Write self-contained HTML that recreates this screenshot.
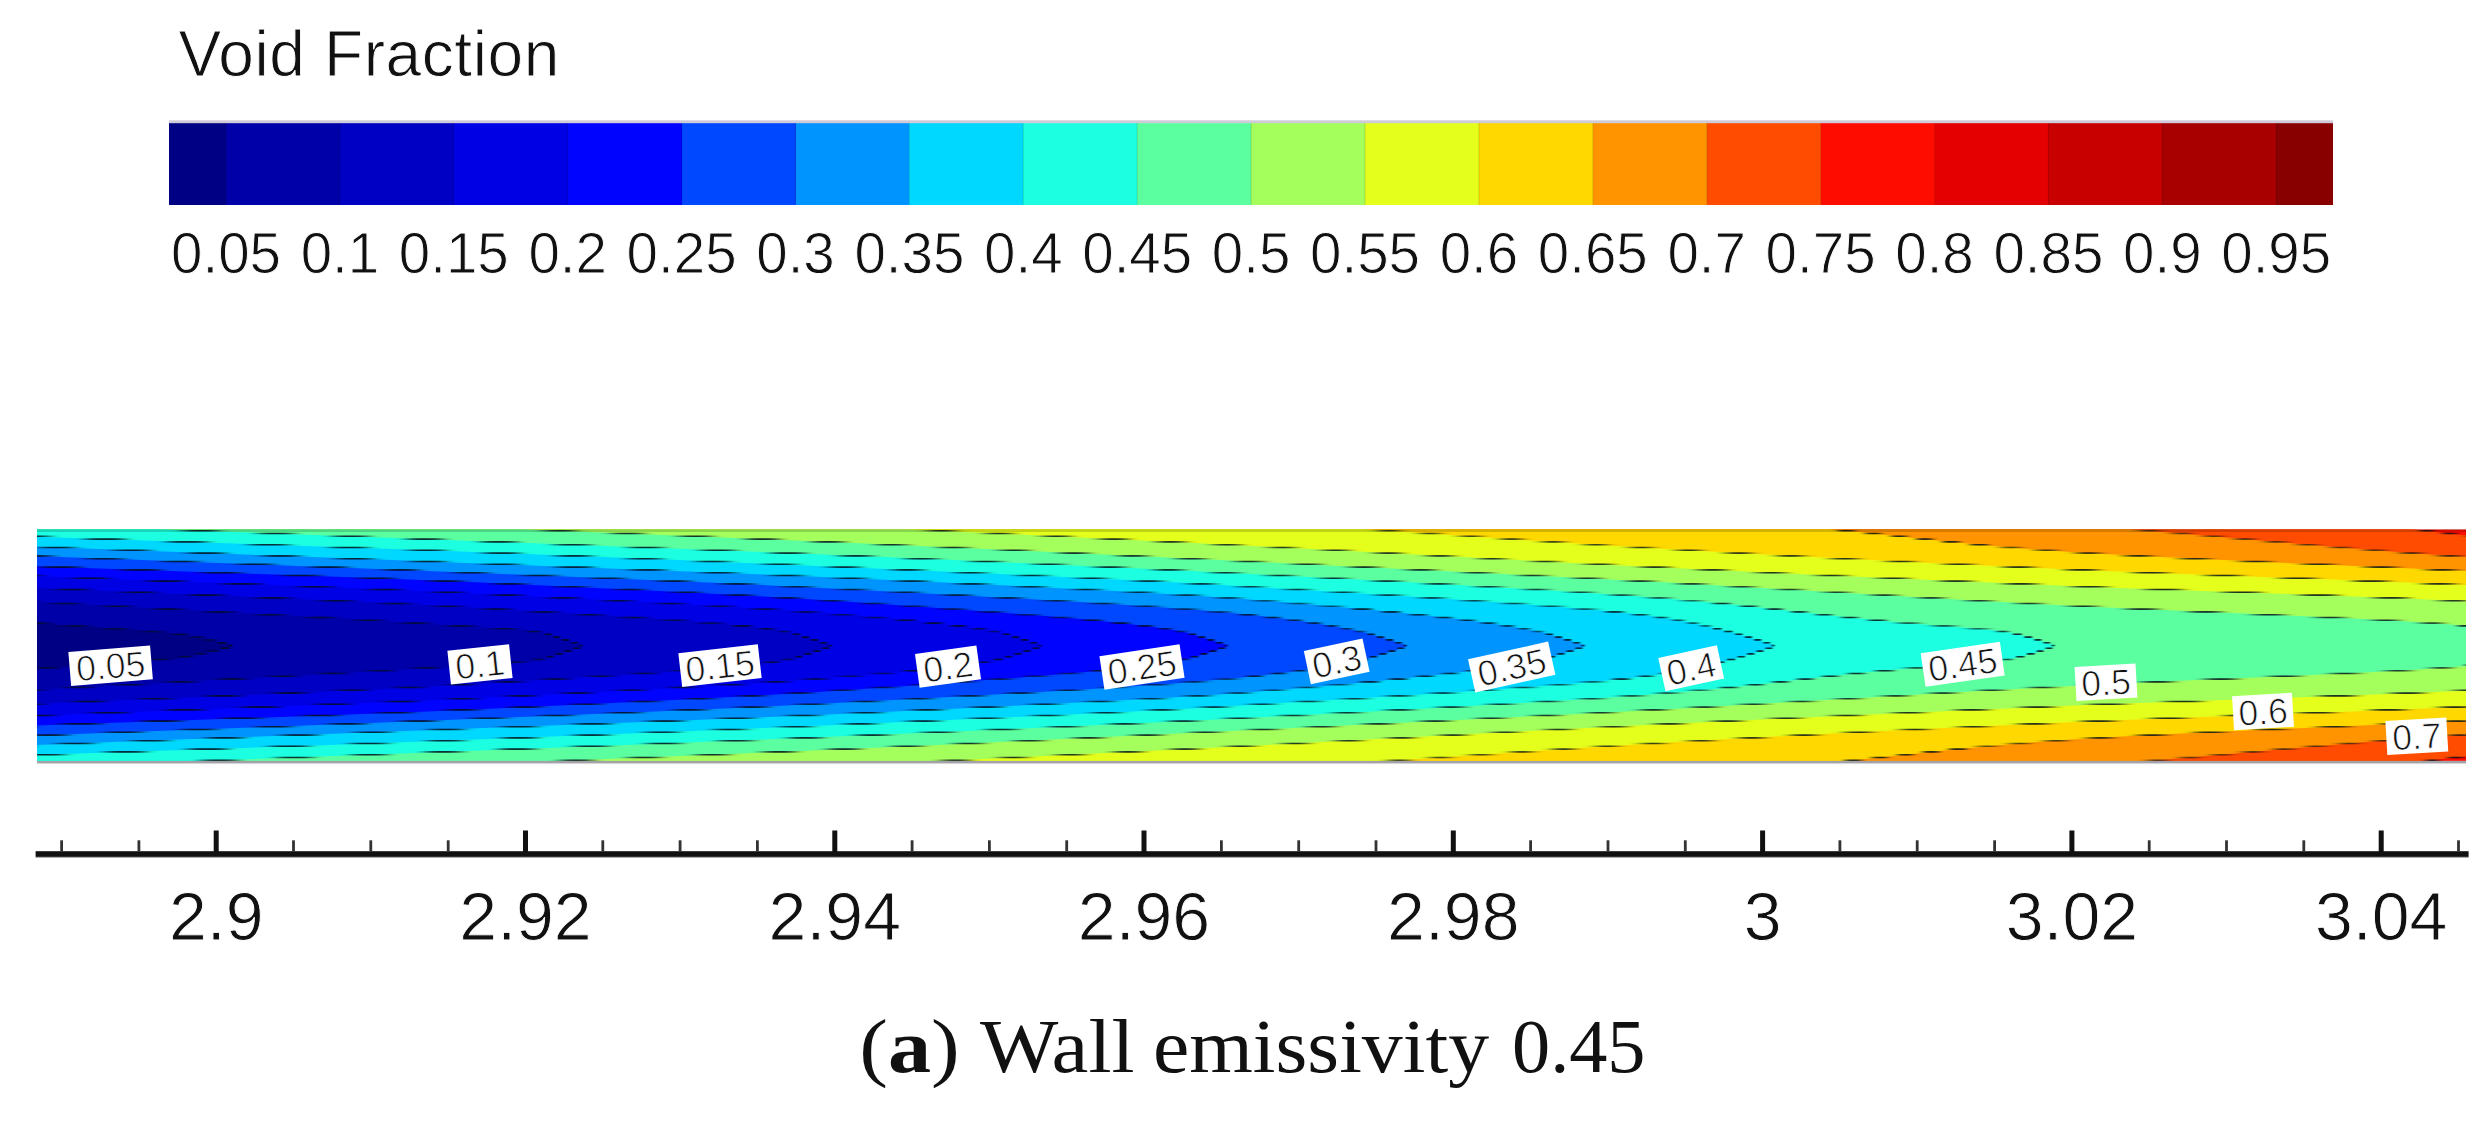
<!DOCTYPE html>
<html><head><meta charset="utf-8"><title>Void Fraction</title>
<style>html,body{margin:0;padding:0;background:#fff;overflow:hidden}svg{display:block}</style></head>
<body>
<svg width="2491" height="1122" viewBox="0 0 2491 1122">
<defs>
<clipPath id="cp"><rect x="37.0" y="529.3" width="2429.0" height="231.60000000000002"/></clipPath>
<filter id="bl" x="-5%" y="-5%" width="110%" height="110%"><feGaussianBlur stdDeviation="6.5 0.45"/></filter>
<filter id="bl2" x="-5%" y="-5%" width="110%" height="110%"><feGaussianBlur stdDeviation="3 0.5"/></filter>
<filter id="bl3" x="-5%" y="-5%" width="110%" height="110%"><feGaussianBlur stdDeviation="1.2 0.5"/></filter>
</defs>
<rect width="100%" height="100%" fill="#fff"/>
<g shape-rendering="crispEdges">
<rect x="169.0" y="123.1" width="57.6" height="81.7" fill="#000084"/>
<rect x="226.0" y="123.1" width="114.5" height="81.7" fill="#0000a8"/>
<rect x="339.9" y="123.1" width="114.5" height="81.7" fill="#0000c4"/>
<rect x="453.8" y="123.1" width="114.5" height="81.7" fill="#0000e4"/>
<rect x="567.7" y="123.1" width="114.5" height="81.7" fill="#0004ff"/>
<rect x="681.6" y="123.1" width="114.5" height="81.7" fill="#0048ff"/>
<rect x="795.5" y="123.1" width="114.5" height="81.7" fill="#0094ff"/>
<rect x="909.4" y="123.1" width="114.5" height="81.7" fill="#00d8ff"/>
<rect x="1023.3" y="123.1" width="114.5" height="81.7" fill="#1cffe0"/>
<rect x="1137.2" y="123.1" width="114.5" height="81.7" fill="#5cffa0"/>
<rect x="1251.1" y="123.1" width="114.5" height="81.7" fill="#a4ff5c"/>
<rect x="1365.0" y="123.1" width="114.5" height="81.7" fill="#e4ff1c"/>
<rect x="1478.9" y="123.1" width="114.5" height="81.7" fill="#ffd800"/>
<rect x="1592.8" y="123.1" width="114.5" height="81.7" fill="#ff9400"/>
<rect x="1706.7" y="123.1" width="114.5" height="81.7" fill="#ff4c00"/>
<rect x="1820.6" y="123.1" width="114.5" height="81.7" fill="#ff0c00"/>
<rect x="1934.5" y="123.1" width="114.5" height="81.7" fill="#e40000"/>
<rect x="2048.4" y="123.1" width="114.5" height="81.7" fill="#c80000"/>
<rect x="2162.3" y="123.1" width="114.5" height="81.7" fill="#a80000"/>
<rect x="2276.2" y="123.1" width="56.8" height="81.7" fill="#880000"/>
</g>
<rect x="169.0" y="120.3" width="2164.0" height="2.9" fill="#cfcbd8"/>
<rect x="225.4" y="123.1" width="1.2" height="81.70000000000002" fill="#000" opacity="0.12"/>
<rect x="339.3" y="123.1" width="1.2" height="81.70000000000002" fill="#000" opacity="0.12"/>
<rect x="453.2" y="123.1" width="1.2" height="81.70000000000002" fill="#000" opacity="0.12"/>
<rect x="567.1" y="123.1" width="1.2" height="81.70000000000002" fill="#000" opacity="0.12"/>
<rect x="681.0" y="123.1" width="1.2" height="81.70000000000002" fill="#000" opacity="0.12"/>
<rect x="794.9" y="123.1" width="1.2" height="81.70000000000002" fill="#000" opacity="0.12"/>
<rect x="908.8" y="123.1" width="1.2" height="81.70000000000002" fill="#000" opacity="0.12"/>
<rect x="1022.7" y="123.1" width="1.2" height="81.70000000000002" fill="#000" opacity="0.12"/>
<rect x="1136.6" y="123.1" width="1.2" height="81.70000000000002" fill="#000" opacity="0.12"/>
<rect x="1250.5" y="123.1" width="1.2" height="81.70000000000002" fill="#000" opacity="0.12"/>
<rect x="1364.4" y="123.1" width="1.2" height="81.70000000000002" fill="#000" opacity="0.12"/>
<rect x="1478.3" y="123.1" width="1.2" height="81.70000000000002" fill="#000" opacity="0.12"/>
<rect x="1592.2" y="123.1" width="1.2" height="81.70000000000002" fill="#000" opacity="0.12"/>
<rect x="1706.1" y="123.1" width="1.2" height="81.70000000000002" fill="#000" opacity="0.12"/>
<rect x="1820.0" y="123.1" width="1.2" height="81.70000000000002" fill="#000" opacity="0.12"/>
<rect x="1933.9" y="123.1" width="1.2" height="81.70000000000002" fill="#000" opacity="0.12"/>
<rect x="2047.8" y="123.1" width="1.2" height="81.70000000000002" fill="#000" opacity="0.12"/>
<rect x="2161.7" y="123.1" width="1.2" height="81.70000000000002" fill="#000" opacity="0.12"/>
<rect x="2275.6" y="123.1" width="1.2" height="81.70000000000002" fill="#000" opacity="0.12"/>
<g font-family="Liberation Sans, Arial, Helvetica, sans-serif" fill="#111" stroke="#fff" stroke-width="0.9">
<text x="178.6" y="76.3" font-size="64" letter-spacing="0.6">Void Fraction</text>
<g font-size="56.5" text-anchor="middle">
<text x="226.0" y="273.3">0.05</text>
<text x="339.9" y="273.3">0.1</text>
<text x="453.8" y="273.3">0.15</text>
<text x="567.7" y="273.3">0.2</text>
<text x="681.6" y="273.3">0.25</text>
<text x="795.5" y="273.3">0.3</text>
<text x="909.4" y="273.3">0.35</text>
<text x="1023.3" y="273.3">0.4</text>
<text x="1137.2" y="273.3">0.45</text>
<text x="1251.1" y="273.3">0.5</text>
<text x="1365.0" y="273.3">0.55</text>
<text x="1478.9" y="273.3">0.6</text>
<text x="1592.8" y="273.3">0.65</text>
<text x="1706.7" y="273.3">0.7</text>
<text x="1820.6" y="273.3">0.75</text>
<text x="1934.5" y="273.3">0.8</text>
<text x="2048.4" y="273.3">0.85</text>
<text x="2162.3" y="273.3">0.9</text>
<text x="2276.2" y="273.3">0.95</text>
</g></g>
<g clip-path="url(#cp)">
<rect x="37.0" y="529.3" width="2429.0" height="231.60000000000002" fill="#ff0c00"/>
<path d="M-200,525.9 L2386.5,525.9 L2403.4,527.9 L2420.3,529.9 L2436.1,531.9 L2452.3,533.9 L2472.3,535.9 L2496.1,538.0 L2522.8,540.0 L2552.4,542.0 L2584.6,544.0 L2600.0,546.0 L2600.0,548.0 L2600.0,550.1 L2600.0,552.1 L2600.0,554.1 L2600.0,556.1 L2600.0,558.1 L2600.0,560.1 L2600.0,562.2 L2600.0,564.2 L2600.0,566.2 L2600.0,568.2 L2600.0,570.2 L2600.0,572.2 L2600.0,574.3 L2600.0,576.3 L2600.0,578.3 L2600.0,580.3 L2600.0,582.3 L2600.0,584.3 L2600.0,586.4 L2600.0,588.4 L2600.0,590.4 L2600.0,592.4 L2600.0,594.4 L2600.0,596.4 L2600.0,598.5 L2600.0,600.5 L2600.0,602.5 L2600.0,604.5 L2600.0,606.5 L2600.0,608.5 L2600.0,610.6 L2600.0,612.6 L2600.0,614.6 L2600.0,616.6 L2600.0,618.6 L2600.0,620.6 L2600.0,622.7 L2600.0,624.7 L2600.0,625.9 L2600.0,626.7 L2600.0,626.9 L2600.0,627.9 L2600.0,628.7 L2600.0,628.9 L2600.0,629.9 L2600.0,630.7 L2600.0,630.9 L2600.0,631.9 L2600.0,632.7 L2600.0,632.9 L2600.0,633.9 L2600.0,634.8 L2600.0,634.9 L2600.0,635.9 L2600.0,636.8 L2600.0,636.9 L2600.0,637.9 L2600.0,638.8 L2600.0,638.9 L2600.0,639.9 L2600.0,640.8 L2600.0,640.9 L2600.0,641.9 L2600.0,642.8 L2600.0,642.9 L2600.0,643.9 L2600.0,644.8 L2600.0,644.9 L2600.0,645.9 L2600.0,646.9 L2600.0,646.9 L2600.0,647.9 L2600.0,648.9 L2600.0,648.9 L2600.0,649.9 L2600.0,650.9 L2600.0,650.9 L2600.0,651.9 L2600.0,652.9 L2600.0,652.9 L2600.0,653.9 L2600.0,654.9 L2600.0,654.9 L2600.0,655.9 L2600.0,656.9 L2600.0,656.9 L2600.0,657.9 L2600.0,658.9 L2600.0,659.0 L2600.0,659.9 L2600.0,660.9 L2600.0,661.0 L2600.0,661.9 L2600.0,662.9 L2600.0,663.0 L2600.0,663.9 L2600.0,664.9 L2600.0,665.0 L2600.0,665.9 L2600.0,667.0 L2600.0,669.0 L2600.0,671.1 L2600.0,673.1 L2600.0,675.1 L2600.0,677.1 L2600.0,679.1 L2600.0,681.1 L2600.0,683.2 L2600.0,685.2 L2600.0,687.2 L2600.0,689.2 L2600.0,691.2 L2600.0,693.2 L2600.0,695.3 L2600.0,697.3 L2600.0,699.3 L2600.0,701.3 L2600.0,703.3 L2600.0,705.3 L2600.0,707.4 L2600.0,709.4 L2600.0,711.4 L2600.0,713.4 L2600.0,715.4 L2600.0,717.4 L2600.0,719.5 L2600.0,721.5 L2600.0,723.5 L2600.0,725.5 L2600.0,727.5 L2600.0,729.5 L2600.0,731.6 L2600.0,733.6 L2600.0,735.6 L2600.0,737.6 L2600.0,739.6 L2600.0,741.6 L2600.0,743.7 L2600.0,745.7 L2584.6,747.7 L2552.4,749.7 L2522.8,751.7 L2496.1,753.7 L2472.3,755.8 L2452.3,757.8 L2436.1,759.8 L2420.3,761.8 L2403.4,763.8 L2386.5,765.9 L-200,765.9 Z" fill="#ff4c00"/>
<path d="M-200,525.9 L2090.9,525.9 L2115.2,527.9 L2139.4,529.9 L2163.3,531.9 L2186.5,533.9 L2209.3,535.9 L2231.8,538.0 L2254.2,540.0 L2276.7,542.0 L2299.5,544.0 L2322.8,546.0 L2346.7,548.0 L2371.4,550.1 L2397.1,552.1 L2424.0,554.1 L2452.2,556.1 L2482.2,558.1 L2515.2,560.1 L2551.2,562.2 L2590.1,564.2 L2600.0,566.2 L2600.0,568.2 L2600.0,570.2 L2600.0,572.2 L2600.0,574.3 L2600.0,576.3 L2600.0,578.3 L2600.0,580.3 L2600.0,582.3 L2600.0,584.3 L2600.0,586.4 L2600.0,588.4 L2600.0,590.4 L2600.0,592.4 L2600.0,594.4 L2600.0,596.4 L2600.0,598.5 L2600.0,600.5 L2600.0,602.5 L2600.0,604.5 L2600.0,606.5 L2600.0,608.5 L2600.0,610.6 L2600.0,612.6 L2600.0,614.6 L2600.0,616.6 L2600.0,618.6 L2600.0,620.6 L2600.0,622.7 L2600.0,624.7 L2600.0,625.9 L2600.0,626.7 L2600.0,626.9 L2600.0,627.9 L2600.0,628.7 L2600.0,628.9 L2600.0,629.9 L2600.0,630.7 L2600.0,630.9 L2600.0,631.9 L2600.0,632.7 L2600.0,632.9 L2600.0,633.9 L2600.0,634.8 L2600.0,634.9 L2600.0,635.9 L2600.0,636.8 L2600.0,636.9 L2600.0,637.9 L2600.0,638.8 L2600.0,638.9 L2600.0,639.9 L2600.0,640.8 L2600.0,640.9 L2600.0,641.9 L2600.0,642.8 L2600.0,642.9 L2600.0,643.9 L2600.0,644.8 L2600.0,644.9 L2600.0,645.9 L2600.0,646.9 L2600.0,646.9 L2600.0,647.9 L2600.0,648.9 L2600.0,648.9 L2600.0,649.9 L2600.0,650.9 L2600.0,650.9 L2600.0,651.9 L2600.0,652.9 L2600.0,652.9 L2600.0,653.9 L2600.0,654.9 L2600.0,654.9 L2600.0,655.9 L2600.0,656.9 L2600.0,656.9 L2600.0,657.9 L2600.0,658.9 L2600.0,659.0 L2600.0,659.9 L2600.0,660.9 L2600.0,661.0 L2600.0,661.9 L2600.0,662.9 L2600.0,663.0 L2600.0,663.9 L2600.0,664.9 L2600.0,665.0 L2600.0,665.9 L2600.0,667.0 L2600.0,669.0 L2600.0,671.1 L2600.0,673.1 L2600.0,675.1 L2600.0,677.1 L2600.0,679.1 L2600.0,681.1 L2600.0,683.2 L2600.0,685.2 L2600.0,687.2 L2600.0,689.2 L2600.0,691.2 L2600.0,693.2 L2600.0,695.3 L2600.0,697.3 L2600.0,699.3 L2600.0,701.3 L2600.0,703.3 L2600.0,705.3 L2600.0,707.4 L2600.0,709.4 L2600.0,711.4 L2600.0,713.4 L2600.0,715.4 L2600.0,717.4 L2600.0,719.5 L2600.0,721.5 L2600.0,723.5 L2600.0,725.5 L2590.1,727.5 L2551.2,729.5 L2515.2,731.6 L2482.2,733.6 L2452.2,735.6 L2424.0,737.6 L2397.1,739.6 L2371.4,741.6 L2346.7,743.7 L2322.8,745.7 L2299.5,747.7 L2276.7,749.7 L2254.2,751.7 L2231.8,753.7 L2209.3,755.8 L2186.5,757.8 L2163.3,759.8 L2139.4,761.8 L2115.2,763.8 L2090.9,765.9 L-200,765.9 Z" fill="#ff9400"/>
<path d="M-200,525.9 L1797.2,525.9 L1817.8,527.9 L1838.3,529.9 L1858.3,531.9 L1877.3,533.9 L1895.7,535.9 L1914.0,538.0 L1932.5,540.0 L1951.6,542.0 L1971.7,544.0 L1993.2,546.0 L2016.5,548.0 L2042.0,550.1 L2070.6,552.1 L2103.9,554.1 L2141.3,556.1 L2181.9,558.1 L2224.9,560.1 L2269.6,562.2 L2315.1,564.2 L2360.7,566.2 L2405.5,568.2 L2448.8,570.2 L2490.6,572.2 L2534.2,574.3 L2579.7,576.3 L2600.0,578.3 L2600.0,580.3 L2600.0,582.3 L2600.0,584.3 L2600.0,586.4 L2600.0,588.4 L2600.0,590.4 L2600.0,592.4 L2600.0,594.4 L2600.0,596.4 L2600.0,598.5 L2600.0,600.5 L2600.0,602.5 L2600.0,604.5 L2600.0,606.5 L2600.0,608.5 L2600.0,610.6 L2600.0,612.6 L2600.0,614.6 L2600.0,616.6 L2600.0,618.6 L2600.0,620.6 L2600.0,622.7 L2600.0,624.7 L2600.0,625.9 L2600.0,626.7 L2600.0,626.9 L2600.0,627.9 L2600.0,628.7 L2600.0,628.9 L2600.0,629.9 L2600.0,630.7 L2600.0,630.9 L2600.0,631.9 L2600.0,632.7 L2600.0,632.9 L2600.0,633.9 L2600.0,634.8 L2600.0,634.9 L2600.0,635.9 L2600.0,636.8 L2600.0,636.9 L2600.0,637.9 L2600.0,638.8 L2600.0,638.9 L2600.0,639.9 L2600.0,640.8 L2600.0,640.9 L2600.0,641.9 L2600.0,642.8 L2600.0,642.9 L2600.0,643.9 L2600.0,644.8 L2600.0,644.9 L2600.0,645.9 L2600.0,646.9 L2600.0,646.9 L2600.0,647.9 L2600.0,648.9 L2600.0,648.9 L2600.0,649.9 L2600.0,650.9 L2600.0,650.9 L2600.0,651.9 L2600.0,652.9 L2600.0,652.9 L2600.0,653.9 L2600.0,654.9 L2600.0,654.9 L2600.0,655.9 L2600.0,656.9 L2600.0,656.9 L2600.0,657.9 L2600.0,658.9 L2600.0,659.0 L2600.0,659.9 L2600.0,660.9 L2600.0,661.0 L2600.0,661.9 L2600.0,662.9 L2600.0,663.0 L2600.0,663.9 L2600.0,664.9 L2600.0,665.0 L2600.0,665.9 L2600.0,667.0 L2600.0,669.0 L2600.0,671.1 L2600.0,673.1 L2600.0,675.1 L2600.0,677.1 L2600.0,679.1 L2600.0,681.1 L2600.0,683.2 L2600.0,685.2 L2600.0,687.2 L2600.0,689.2 L2600.0,691.2 L2600.0,693.2 L2600.0,695.3 L2600.0,697.3 L2600.0,699.3 L2600.0,701.3 L2600.0,703.3 L2600.0,705.3 L2600.0,707.4 L2600.0,709.4 L2600.0,711.4 L2600.0,713.4 L2579.7,715.4 L2534.2,717.4 L2490.6,719.5 L2448.8,721.5 L2405.5,723.5 L2360.7,725.5 L2315.1,727.5 L2269.6,729.5 L2224.9,731.6 L2181.9,733.6 L2141.3,735.6 L2103.9,737.6 L2070.6,739.6 L2042.0,741.6 L2016.5,743.7 L1993.2,745.7 L1971.7,747.7 L1951.6,749.7 L1932.5,751.7 L1914.0,753.7 L1895.7,755.8 L1877.3,757.8 L1858.3,759.8 L1838.3,761.8 L1817.8,763.8 L1797.2,765.9 L-200,765.9 Z" fill="#ffd800"/>
<path d="M-200,525.9 L1315.6,525.9 L1346.0,527.9 L1376.5,529.9 L1406.6,531.9 L1436.1,533.9 L1465.3,535.9 L1494.5,538.0 L1524.0,540.0 L1553.9,542.0 L1584.7,544.0 L1616.5,546.0 L1649.6,548.0 L1684.1,550.1 L1719.8,552.1 L1756.4,554.1 L1794.2,556.1 L1832.9,558.1 L1872.7,560.1 L1913.6,562.2 L1955.5,564.2 L1998.4,566.2 L2042.3,568.2 L2088.4,570.2 L2138.1,572.2 L2190.3,574.3 L2244.0,576.3 L2297.9,578.3 L2350.9,580.3 L2402.0,582.3 L2450.0,584.3 L2495.1,586.4 L2541.3,588.4 L2588.7,590.4 L2600.0,592.4 L2600.0,594.4 L2600.0,596.4 L2600.0,598.5 L2600.0,600.5 L2600.0,602.5 L2600.0,604.5 L2600.0,606.5 L2600.0,608.5 L2600.0,610.6 L2600.0,612.6 L2600.0,614.6 L2600.0,616.6 L2600.0,618.6 L2600.0,620.6 L2600.0,622.7 L2600.0,624.7 L2600.0,625.9 L2600.0,626.7 L2600.0,626.9 L2600.0,627.9 L2600.0,628.7 L2600.0,628.9 L2600.0,629.9 L2600.0,630.7 L2600.0,630.9 L2600.0,631.9 L2600.0,632.7 L2600.0,632.9 L2600.0,633.9 L2600.0,634.8 L2600.0,634.9 L2600.0,635.9 L2600.0,636.8 L2600.0,636.9 L2600.0,637.9 L2600.0,638.8 L2600.0,638.9 L2600.0,639.9 L2600.0,640.8 L2600.0,640.9 L2600.0,641.9 L2600.0,642.8 L2600.0,642.9 L2600.0,643.9 L2600.0,644.8 L2600.0,644.9 L2600.0,645.9 L2600.0,646.9 L2600.0,646.9 L2600.0,647.9 L2600.0,648.9 L2600.0,648.9 L2600.0,649.9 L2600.0,650.9 L2600.0,650.9 L2600.0,651.9 L2600.0,652.9 L2600.0,652.9 L2600.0,653.9 L2600.0,654.9 L2600.0,654.9 L2600.0,655.9 L2600.0,656.9 L2600.0,656.9 L2600.0,657.9 L2600.0,658.9 L2600.0,659.0 L2600.0,659.9 L2600.0,660.9 L2600.0,661.0 L2600.0,661.9 L2600.0,662.9 L2600.0,663.0 L2600.0,663.9 L2600.0,664.9 L2600.0,665.0 L2600.0,665.9 L2600.0,667.0 L2600.0,669.0 L2600.0,671.1 L2600.0,673.1 L2600.0,675.1 L2600.0,677.1 L2600.0,679.1 L2600.0,681.1 L2600.0,683.2 L2600.0,685.2 L2600.0,687.2 L2600.0,689.2 L2600.0,691.2 L2600.0,693.2 L2600.0,695.3 L2600.0,697.3 L2600.0,699.3 L2588.7,701.3 L2541.3,703.3 L2495.1,705.3 L2450.0,707.4 L2402.0,709.4 L2350.9,711.4 L2297.9,713.4 L2244.0,715.4 L2190.3,717.4 L2138.1,719.5 L2088.4,721.5 L2042.3,723.5 L1998.4,725.5 L1955.5,727.5 L1913.6,729.5 L1872.7,731.6 L1832.9,733.6 L1794.2,735.6 L1756.4,737.6 L1719.8,739.6 L1684.1,741.6 L1649.6,743.7 L1616.5,745.7 L1584.7,747.7 L1553.9,749.7 L1524.0,751.7 L1494.5,753.7 L1465.3,755.8 L1436.1,757.8 L1406.6,759.8 L1376.5,761.8 L1346.0,763.8 L1315.6,765.9 L-200,765.9 Z" fill="#e4ff1c"/>
<path d="M-200,525.9 L842.5,525.9 L883.6,527.9 L924.7,529.9 L965.9,531.9 L1007.4,533.9 L1048.9,535.9 L1090.4,538.0 L1131.7,540.0 L1172.7,542.0 L1213.3,544.0 L1253.3,546.0 L1292.6,548.0 L1331.0,550.1 L1368.9,552.1 L1406.5,554.1 L1443.9,556.1 L1481.4,558.1 L1519.1,560.1 L1557.4,562.2 L1596.5,564.2 L1636.4,566.2 L1677.5,568.2 L1719.2,570.2 L1761.5,572.2 L1804.4,574.3 L1848.1,576.3 L1892.5,578.3 L1937.7,580.3 L1983.8,582.3 L2030.8,584.3 L2079.5,586.4 L2132.3,588.4 L2188.0,590.4 L2244.8,592.4 L2301.1,594.4 L2355.2,596.4 L2405.6,598.5 L2450.5,600.5 L2489.9,602.5 L2529.4,604.5 L2569.2,606.5 L2600.0,608.5 L2600.0,610.6 L2600.0,612.6 L2600.0,614.6 L2600.0,616.6 L2600.0,618.6 L2600.0,620.6 L2600.0,622.7 L2600.0,624.7 L2600.0,625.9 L2600.0,626.7 L2600.0,626.9 L2600.0,627.9 L2600.0,628.7 L2600.0,628.9 L2600.0,629.9 L2600.0,630.7 L2600.0,630.9 L2600.0,631.9 L2600.0,632.7 L2600.0,632.9 L2600.0,633.9 L2600.0,634.8 L2600.0,634.9 L2600.0,635.9 L2600.0,636.8 L2600.0,636.9 L2600.0,637.9 L2600.0,638.8 L2600.0,638.9 L2600.0,639.9 L2600.0,640.8 L2600.0,640.9 L2600.0,641.9 L2600.0,642.8 L2600.0,642.9 L2600.0,643.9 L2600.0,644.8 L2600.0,644.9 L2600.0,645.9 L2600.0,646.9 L2600.0,646.9 L2600.0,647.9 L2600.0,648.9 L2600.0,648.9 L2600.0,649.9 L2600.0,650.9 L2600.0,650.9 L2600.0,651.9 L2600.0,652.9 L2600.0,652.9 L2600.0,653.9 L2600.0,654.9 L2600.0,654.9 L2600.0,655.9 L2600.0,656.9 L2600.0,656.9 L2600.0,657.9 L2600.0,658.9 L2600.0,659.0 L2600.0,659.9 L2600.0,660.9 L2600.0,661.0 L2600.0,661.9 L2600.0,662.9 L2600.0,663.0 L2600.0,663.9 L2600.0,664.9 L2600.0,665.0 L2600.0,665.9 L2600.0,667.0 L2600.0,669.0 L2600.0,671.1 L2600.0,673.1 L2600.0,675.1 L2600.0,677.1 L2600.0,679.1 L2600.0,681.1 L2600.0,683.2 L2569.2,685.2 L2529.4,687.2 L2489.9,689.2 L2450.5,691.2 L2405.6,693.2 L2355.2,695.3 L2301.1,697.3 L2244.8,699.3 L2188.0,701.3 L2132.3,703.3 L2079.5,705.3 L2030.8,707.4 L1983.8,709.4 L1937.7,711.4 L1892.5,713.4 L1848.1,715.4 L1804.4,717.4 L1761.5,719.5 L1719.2,721.5 L1677.5,723.5 L1636.4,725.5 L1596.5,727.5 L1557.4,729.5 L1519.1,731.6 L1481.4,733.6 L1443.9,735.6 L1406.5,737.6 L1368.9,739.6 L1331.0,741.6 L1292.6,743.7 L1253.3,745.7 L1213.3,747.7 L1172.7,749.7 L1131.7,751.7 L1090.4,753.7 L1048.9,755.8 L1007.4,757.8 L965.9,759.8 L924.7,761.8 L883.6,763.8 L842.5,765.9 L-200,765.9 Z" fill="#a4ff5c"/>
<path d="M-200,525.9 L443.3,525.9 L491.6,527.9 L539.8,529.9 L588.4,531.9 L637.4,533.9 L686.5,535.9 L735.2,538.0 L783.2,540.0 L830.2,542.0 L876.0,544.0 L920.9,546.0 L965.1,548.0 L1008.8,550.1 L1051.9,552.1 L1094.6,554.1 L1137.0,556.1 L1179.0,558.1 L1220.8,560.1 L1262.4,562.2 L1304.0,564.2 L1345.4,566.2 L1386.6,568.2 L1427.5,570.2 L1468.1,572.2 L1508.3,574.3 L1547.9,576.3 L1587.0,578.3 L1625.4,580.3 L1663.2,582.3 L1699.9,584.3 L1735.5,586.4 L1770.4,588.4 L1804.7,590.4 L1838.6,592.4 L1872.4,594.4 L1906.2,596.4 L1940.5,598.5 L1975.2,600.5 L2010.8,602.5 L2047.3,604.5 L2086.4,606.5 L2129.2,608.5 L2174.2,610.6 L2220.5,612.6 L2266.7,614.6 L2311.7,616.6 L2354.1,618.6 L2392.8,620.6 L2426.6,622.7 L2454.2,624.7 L2467.0,625.9 L2475.3,626.7 L2476.9,626.9 L2486.8,627.9 L2495.2,628.7 L2496.6,628.9 L2506.2,629.9 L2514.5,630.7 L2515.7,630.9 L2524.9,631.9 L2532.9,632.7 L2533.8,632.9 L2542.4,633.9 L2549.8,634.8 L2550.6,634.9 L2558.3,635.9 L2565.0,636.8 L2565.5,636.9 L2572.2,637.9 L2578.0,638.8 L2578.3,638.9 L2583.8,639.9 L2588.3,640.8 L2588.5,640.9 L2592.5,641.9 L2595.6,642.8 L2595.7,642.9 L2598.1,643.9 L2599.5,644.8 L2599.5,644.9 L2600.0,645.9 L2599.5,646.9 L2599.5,646.9 L2598.1,647.9 L2595.7,648.9 L2595.6,648.9 L2592.5,649.9 L2588.5,650.9 L2588.3,650.9 L2583.8,651.9 L2578.3,652.9 L2578.0,652.9 L2572.2,653.9 L2565.5,654.9 L2565.0,654.9 L2558.3,655.9 L2550.6,656.9 L2549.8,656.9 L2542.4,657.9 L2533.8,658.9 L2532.9,659.0 L2524.9,659.9 L2515.7,660.9 L2514.5,661.0 L2506.2,661.9 L2496.6,662.9 L2495.2,663.0 L2486.8,663.9 L2476.9,664.9 L2475.3,665.0 L2467.0,665.9 L2454.2,667.0 L2426.6,669.0 L2392.8,671.1 L2354.1,673.1 L2311.7,675.1 L2266.7,677.1 L2220.5,679.1 L2174.2,681.1 L2129.2,683.2 L2086.4,685.2 L2047.3,687.2 L2010.8,689.2 L1975.2,691.2 L1940.5,693.2 L1906.2,695.3 L1872.4,697.3 L1838.6,699.3 L1804.7,701.3 L1770.4,703.3 L1735.5,705.3 L1699.9,707.4 L1663.2,709.4 L1625.4,711.4 L1587.0,713.4 L1547.9,715.4 L1508.3,717.4 L1468.1,719.5 L1427.5,721.5 L1386.6,723.5 L1345.4,725.5 L1304.0,727.5 L1262.4,729.5 L1220.8,731.6 L1179.0,733.6 L1137.0,735.6 L1094.6,737.6 L1051.9,739.6 L1008.8,741.6 L965.1,743.7 L920.9,745.7 L876.0,747.7 L830.2,749.7 L783.2,751.7 L735.2,753.7 L686.5,755.8 L637.4,757.8 L588.4,759.8 L539.8,761.8 L491.6,763.8 L443.3,765.9 L-200,765.9 Z" fill="#5cffa0"/>
<path d="M-200,525.9 L71.3,525.9 L125.1,527.9 L178.9,529.9 L232.8,531.9 L286.9,533.9 L341.0,535.9 L394.7,538.0 L447.8,540.0 L500.8,542.0 L554.0,544.0 L607.1,546.0 L659.7,548.0 L711.7,550.1 L762.7,552.1 L812.5,554.1 L860.7,556.1 L908.0,558.1 L954.8,560.1 L1000.8,562.2 L1046.0,564.2 L1090.3,566.2 L1133.6,568.2 L1175.6,570.2 L1216.4,572.2 L1255.9,574.3 L1294.7,576.3 L1333.5,578.3 L1371.9,580.3 L1409.7,582.3 L1446.7,584.3 L1482.7,586.4 L1517.6,588.4 L1551.0,590.4 L1582.8,592.4 L1612.7,594.4 L1640.6,596.4 L1666.2,598.5 L1689.7,600.5 L1711.5,602.5 L1731.8,604.5 L1751.0,606.5 L1769.4,608.5 L1787.3,610.6 L1805.1,612.6 L1822.9,614.6 L1841.2,616.6 L1860.2,618.6 L1880.3,620.6 L1902.1,622.7 L1927.7,624.7 L1943.5,625.9 L1954.7,626.7 L1956.8,626.9 L1969.4,627.9 L1979.5,628.7 L1981.1,628.9 L1991.3,629.9 L1998.7,630.7 L1999.6,630.9 L2005.9,631.9 L2010.7,632.7 L2011.2,632.9 L2015.9,633.9 L2019.6,634.8 L2020.0,634.9 L2023.8,635.9 L2027.1,636.8 L2027.4,636.9 L2031.0,637.9 L2034.3,638.8 L2034.5,638.9 L2037.9,639.9 L2040.9,640.8 L2041.0,640.9 L2044.1,641.9 L2046.9,642.8 L2047.0,642.9 L2050.4,643.9 L2053.5,644.8 L2053.6,644.9 L2055.0,645.9 L2053.6,646.9 L2053.5,646.9 L2050.4,647.9 L2047.0,648.9 L2046.9,648.9 L2044.1,649.9 L2041.0,650.9 L2040.9,650.9 L2037.9,651.9 L2034.5,652.9 L2034.3,652.9 L2031.0,653.9 L2027.4,654.9 L2027.1,654.9 L2023.8,655.9 L2020.0,656.9 L2019.6,656.9 L2015.9,657.9 L2011.2,658.9 L2010.7,659.0 L2005.9,659.9 L1999.6,660.9 L1998.7,661.0 L1991.3,661.9 L1981.1,662.9 L1979.5,663.0 L1969.4,663.9 L1956.8,664.9 L1954.7,665.0 L1943.5,665.9 L1927.7,667.0 L1902.1,669.0 L1880.3,671.1 L1860.2,673.1 L1841.2,675.1 L1822.9,677.1 L1805.1,679.1 L1787.3,681.1 L1769.4,683.2 L1751.0,685.2 L1731.8,687.2 L1711.5,689.2 L1689.7,691.2 L1666.2,693.2 L1640.6,695.3 L1612.7,697.3 L1582.8,699.3 L1551.0,701.3 L1517.6,703.3 L1482.7,705.3 L1446.7,707.4 L1409.7,709.4 L1371.9,711.4 L1333.5,713.4 L1294.7,715.4 L1255.9,717.4 L1216.4,719.5 L1175.6,721.5 L1133.6,723.5 L1090.3,725.5 L1046.0,727.5 L1000.8,729.5 L954.8,731.6 L908.0,733.6 L860.7,735.6 L812.5,737.6 L762.7,739.6 L711.7,741.6 L659.7,743.7 L607.1,745.7 L554.0,747.7 L500.8,749.7 L447.8,751.7 L394.7,753.7 L341.0,755.8 L286.9,757.8 L232.8,759.8 L178.9,761.8 L125.1,763.8 L71.3,765.9 L-200,765.9 Z" fill="#1cffe0"/>
<path d="M-200,525.9 L-100.0,525.9 L-100.0,527.9 L-100.0,529.9 L-100.0,531.9 L-44.2,533.9 L13.6,535.9 L71.6,538.0 L130.5,540.0 L189.7,542.0 L248.8,544.0 L307.3,546.0 L364.7,548.0 L420.5,550.1 L474.3,552.1 L527.1,554.1 L579.0,556.1 L629.9,558.1 L679.9,560.1 L728.8,562.2 L776.7,564.2 L823.5,566.2 L869.3,568.2 L914.9,570.2 L960.2,572.2 L1005.0,574.3 L1049.0,576.3 L1091.7,578.3 L1133.0,580.3 L1172.6,582.3 L1210.0,584.3 L1245.1,586.4 L1278.5,588.4 L1311.8,590.4 L1344.9,592.4 L1377.6,594.4 L1409.6,596.4 L1440.9,598.5 L1471.2,600.5 L1500.3,602.5 L1528.0,604.5 L1554.2,606.5 L1578.7,608.5 L1601.3,610.6 L1621.7,612.6 L1639.9,614.6 L1655.5,616.6 L1668.8,618.6 L1680.5,620.6 L1691.0,622.7 L1700.4,624.7 L1705.6,625.9 L1709.2,626.7 L1709.8,626.9 L1714.0,627.9 L1717.4,628.7 L1718.0,628.9 L1722.0,629.9 L1725.5,630.7 L1726.0,630.9 L1730.0,631.9 L1733.4,632.7 L1733.8,632.9 L1737.4,633.9 L1740.6,634.8 L1740.9,634.9 L1744.3,635.9 L1747.4,636.8 L1747.7,636.9 L1751.0,637.9 L1754.2,638.8 L1754.3,638.9 L1757.7,639.9 L1760.8,640.8 L1760.9,640.9 L1764.0,641.9 L1766.9,642.8 L1767.0,642.9 L1770.4,643.9 L1773.5,644.8 L1773.6,644.9 L1775.0,645.9 L1773.6,646.9 L1773.5,646.9 L1770.4,647.9 L1767.0,648.9 L1766.9,648.9 L1764.0,649.9 L1760.9,650.9 L1760.8,650.9 L1757.7,651.9 L1754.3,652.9 L1754.2,652.9 L1751.0,653.9 L1747.7,654.9 L1747.4,654.9 L1744.3,655.9 L1740.9,656.9 L1740.6,656.9 L1737.4,657.9 L1733.8,658.9 L1733.4,659.0 L1730.0,659.9 L1726.0,660.9 L1725.5,661.0 L1722.0,661.9 L1718.0,662.9 L1717.4,663.0 L1714.0,663.9 L1709.8,664.9 L1709.2,665.0 L1705.6,665.9 L1700.4,667.0 L1691.0,669.0 L1680.5,671.1 L1668.8,673.1 L1655.5,675.1 L1639.9,677.1 L1621.7,679.1 L1601.3,681.1 L1578.7,683.2 L1554.2,685.2 L1528.0,687.2 L1500.3,689.2 L1471.2,691.2 L1440.9,693.2 L1409.6,695.3 L1377.6,697.3 L1344.9,699.3 L1311.8,701.3 L1278.5,703.3 L1245.1,705.3 L1210.0,707.4 L1172.6,709.4 L1133.0,711.4 L1091.7,713.4 L1049.0,715.4 L1005.0,717.4 L960.2,719.5 L914.9,721.5 L869.3,723.5 L823.5,725.5 L776.7,727.5 L728.8,729.5 L679.9,731.6 L629.9,733.6 L579.0,735.6 L527.1,737.6 L474.3,739.6 L420.5,741.6 L364.7,743.7 L307.3,745.7 L248.8,747.7 L189.7,749.7 L130.5,751.7 L71.6,753.7 L13.6,755.8 L-44.2,757.8 L-100.0,759.8 L-100.0,761.8 L-100.0,763.8 L-100.0,765.9 L-200,765.9 Z" fill="#00d8ff"/>
<path d="M-200,525.9 L-100.0,525.9 L-100.0,527.9 L-100.0,529.9 L-100.0,531.9 L-100.0,533.9 L-100.0,535.9 L-100.0,538.0 L-100.0,540.0 L-89.2,542.0 L-35.8,544.0 L17.6,546.0 L71.1,548.0 L124.8,550.1 L178.6,552.1 L232.4,554.1 L286.1,556.1 L339.5,558.1 L392.5,560.1 L444.9,562.2 L497.3,564.2 L550.3,566.2 L603.4,568.2 L656.1,570.2 L707.6,572.2 L757.7,574.3 L805.6,576.3 L850.8,578.3 L894.7,580.3 L938.4,582.3 L981.6,584.3 L1023.9,586.4 L1064.9,588.4 L1104.2,590.4 L1141.5,592.4 L1176.3,594.4 L1208.3,596.4 L1237.1,598.5 L1262.7,600.5 L1287.2,602.5 L1311.1,604.5 L1334.1,606.5 L1356.4,608.5 L1377.8,610.6 L1398.3,612.6 L1417.8,614.6 L1436.4,616.6 L1453.9,618.6 L1470.4,620.6 L1485.7,622.7 L1499.9,624.7 L1507.6,625.9 L1512.9,626.7 L1513.8,626.9 L1519.8,627.9 L1524.6,628.7 L1525.4,628.9 L1530.7,629.9 L1535.0,630.7 L1535.6,630.9 L1540.2,631.9 L1543.9,632.7 L1544.3,632.9 L1548.0,633.9 L1551.1,634.8 L1551.4,634.9 L1554.6,635.9 L1557.5,636.8 L1557.7,636.9 L1561.0,637.9 L1564.2,638.8 L1564.3,638.9 L1567.7,639.9 L1570.8,640.8 L1570.9,640.9 L1574.0,641.9 L1576.9,642.8 L1577.0,642.9 L1580.4,643.9 L1583.5,644.8 L1583.6,644.9 L1585.0,645.9 L1583.6,646.9 L1583.5,646.9 L1580.4,647.9 L1577.0,648.9 L1576.9,648.9 L1574.0,649.9 L1570.9,650.9 L1570.8,650.9 L1567.7,651.9 L1564.3,652.9 L1564.2,652.9 L1561.0,653.9 L1557.7,654.9 L1557.5,654.9 L1554.6,655.9 L1551.4,656.9 L1551.1,656.9 L1548.0,657.9 L1544.3,658.9 L1543.9,659.0 L1540.2,659.9 L1535.6,660.9 L1535.0,661.0 L1530.7,661.9 L1525.4,662.9 L1524.6,663.0 L1519.8,663.9 L1513.8,664.9 L1512.9,665.0 L1507.6,665.9 L1499.9,667.0 L1485.7,669.0 L1470.4,671.1 L1453.9,673.1 L1436.4,675.1 L1417.8,677.1 L1398.3,679.1 L1377.8,681.1 L1356.4,683.2 L1334.1,685.2 L1311.1,687.2 L1287.2,689.2 L1262.7,691.2 L1237.1,693.2 L1208.3,695.3 L1176.3,697.3 L1141.5,699.3 L1104.2,701.3 L1064.9,703.3 L1023.9,705.3 L981.6,707.4 L938.4,709.4 L894.7,711.4 L850.8,713.4 L805.6,715.4 L757.7,717.4 L707.6,719.5 L656.1,721.5 L603.4,723.5 L550.3,725.5 L497.3,727.5 L444.9,729.5 L392.5,731.6 L339.5,733.6 L286.1,735.6 L232.4,737.6 L178.6,739.6 L124.8,741.6 L71.1,743.7 L17.6,745.7 L-35.8,747.7 L-89.2,749.7 L-100.0,751.7 L-100.0,753.7 L-100.0,755.8 L-100.0,757.8 L-100.0,759.8 L-100.0,761.8 L-100.0,763.8 L-100.0,765.9 L-200,765.9 Z" fill="#0094ff"/>
<path d="M-200,525.9 L-100.0,525.9 L-100.0,527.9 L-100.0,529.9 L-100.0,531.9 L-100.0,533.9 L-100.0,535.9 L-100.0,538.0 L-100.0,540.0 L-100.0,542.0 L-100.0,544.0 L-100.0,546.0 L-100.0,548.0 L-100.0,550.1 L-70.4,552.1 L-17.3,554.1 L35.7,556.1 L89.2,558.1 L143.2,560.1 L197.5,562.2 L251.6,564.2 L305.2,566.2 L358.0,568.2 L409.5,570.2 L459.5,572.2 L509.0,574.3 L558.4,576.3 L607.4,578.3 L655.4,580.3 L702.2,582.3 L747.4,584.3 L790.5,586.4 L831.2,588.4 L869.5,590.4 L907.5,592.4 L945.1,594.4 L982.2,596.4 L1018.4,598.5 L1053.6,600.5 L1087.4,602.5 L1119.6,604.5 L1150.0,606.5 L1178.2,608.5 L1204.1,610.6 L1227.3,612.6 L1247.6,614.6 L1265.5,616.6 L1282.1,618.6 L1297.5,620.6 L1311.7,622.7 L1324.7,624.7 L1331.8,625.9 L1336.6,626.7 L1337.5,626.9 L1343.0,627.9 L1347.4,628.7 L1348.1,628.9 L1353.1,629.9 L1357.2,630.7 L1357.8,630.9 L1362.2,631.9 L1365.7,632.7 L1366.1,632.9 L1369.8,633.9 L1372.9,634.8 L1373.2,634.9 L1376.5,635.9 L1379.5,636.8 L1379.7,636.9 L1383.0,637.9 L1386.2,638.8 L1386.3,638.9 L1389.7,639.9 L1392.8,640.8 L1392.9,640.9 L1396.0,641.9 L1398.9,642.8 L1399.0,642.9 L1402.4,643.9 L1405.5,644.8 L1405.6,644.9 L1407.0,645.9 L1405.6,646.9 L1405.5,646.9 L1402.4,647.9 L1399.0,648.9 L1398.9,648.9 L1396.0,649.9 L1392.9,650.9 L1392.8,650.9 L1389.7,651.9 L1386.3,652.9 L1386.2,652.9 L1383.0,653.9 L1379.7,654.9 L1379.5,654.9 L1376.5,655.9 L1373.2,656.9 L1372.9,656.9 L1369.8,657.9 L1366.1,658.9 L1365.7,659.0 L1362.2,659.9 L1357.8,660.9 L1357.2,661.0 L1353.1,661.9 L1348.1,662.9 L1347.4,663.0 L1343.0,663.9 L1337.5,664.9 L1336.6,665.0 L1331.8,665.9 L1324.7,667.0 L1311.7,669.0 L1297.5,671.1 L1282.1,673.1 L1265.5,675.1 L1247.6,677.1 L1227.3,679.1 L1204.1,681.1 L1178.2,683.2 L1150.0,685.2 L1119.6,687.2 L1087.4,689.2 L1053.6,691.2 L1018.4,693.2 L982.2,695.3 L945.1,697.3 L907.5,699.3 L869.5,701.3 L831.2,703.3 L790.5,705.3 L747.4,707.4 L702.2,709.4 L655.4,711.4 L607.4,713.4 L558.4,715.4 L509.0,717.4 L459.5,719.5 L409.5,721.5 L358.0,723.5 L305.2,725.5 L251.6,727.5 L197.5,729.5 L143.2,731.6 L89.2,733.6 L35.7,735.6 L-17.3,737.6 L-70.4,739.6 L-100.0,741.6 L-100.0,743.7 L-100.0,745.7 L-100.0,747.7 L-100.0,749.7 L-100.0,751.7 L-100.0,753.7 L-100.0,755.8 L-100.0,757.8 L-100.0,759.8 L-100.0,761.8 L-100.0,763.8 L-100.0,765.9 L-200,765.9 Z" fill="#0048ff"/>
<path d="M-200,525.9 L-100.0,525.9 L-100.0,527.9 L-100.0,529.9 L-100.0,531.9 L-100.0,533.9 L-100.0,535.9 L-100.0,538.0 L-100.0,540.0 L-100.0,542.0 L-100.0,544.0 L-100.0,546.0 L-100.0,548.0 L-100.0,550.1 L-100.0,552.1 L-100.0,554.1 L-100.0,556.1 L-100.0,558.1 L-100.0,560.1 L-75.8,562.2 L-20.3,564.2 L35.2,566.2 L91.8,568.2 L149.8,570.2 L208.4,572.2 L266.4,574.3 L323.0,576.3 L377.1,578.3 L427.7,580.3 L474.5,582.3 L519.9,584.3 L564.1,586.4 L607.1,588.4 L648.7,590.4 L688.7,592.4 L726.9,594.4 L763.3,596.4 L797.5,598.5 L829.5,600.5 L859.2,602.5 L888.3,604.5 L917.1,606.5 L945.5,608.5 L973.2,610.6 L1000.2,612.6 L1026.2,614.6 L1051.0,616.6 L1074.5,618.6 L1096.5,620.6 L1116.9,622.7 L1135.3,624.7 L1145.2,625.9 L1151.8,626.7 L1153.0,626.9 L1160.2,627.9 L1166.0,628.7 L1166.9,628.9 L1173.0,629.9 L1177.8,630.7 L1178.5,630.9 L1183.3,631.9 L1187.1,632.7 L1187.5,632.9 L1191.2,633.9 L1194.2,634.8 L1194.5,634.9 L1197.7,635.9 L1200.5,636.8 L1200.8,636.9 L1204.0,637.9 L1207.2,638.8 L1207.3,638.9 L1210.7,639.9 L1213.8,640.8 L1213.9,640.9 L1217.0,641.9 L1219.9,642.8 L1220.0,642.9 L1223.4,643.9 L1226.5,644.8 L1226.6,644.9 L1228.0,645.9 L1226.6,646.9 L1226.5,646.9 L1223.4,647.9 L1220.0,648.9 L1219.9,648.9 L1217.0,649.9 L1213.9,650.9 L1213.8,650.9 L1210.7,651.9 L1207.3,652.9 L1207.2,652.9 L1204.0,653.9 L1200.8,654.9 L1200.5,654.9 L1197.7,655.9 L1194.5,656.9 L1194.2,656.9 L1191.2,657.9 L1187.5,658.9 L1187.1,659.0 L1183.3,659.9 L1178.5,660.9 L1177.8,661.0 L1173.0,661.9 L1166.9,662.9 L1166.0,663.0 L1160.2,663.9 L1153.0,664.9 L1151.8,665.0 L1145.2,665.9 L1135.3,667.0 L1116.9,669.0 L1096.5,671.1 L1074.5,673.1 L1051.0,675.1 L1026.2,677.1 L1000.2,679.1 L973.2,681.1 L945.5,683.2 L917.1,685.2 L888.3,687.2 L859.2,689.2 L829.5,691.2 L797.5,693.2 L763.3,695.3 L726.9,697.3 L688.7,699.3 L648.7,701.3 L607.1,703.3 L564.1,705.3 L519.9,707.4 L474.5,709.4 L427.7,711.4 L377.1,713.4 L323.0,715.4 L266.4,717.4 L208.4,719.5 L149.8,721.5 L91.8,723.5 L35.2,725.5 L-20.3,727.5 L-75.8,729.5 L-100.0,731.6 L-100.0,733.6 L-100.0,735.6 L-100.0,737.6 L-100.0,739.6 L-100.0,741.6 L-100.0,743.7 L-100.0,745.7 L-100.0,747.7 L-100.0,749.7 L-100.0,751.7 L-100.0,753.7 L-100.0,755.8 L-100.0,757.8 L-100.0,759.8 L-100.0,761.8 L-100.0,763.8 L-100.0,765.9 L-200,765.9 Z" fill="#0004ff"/>
<path d="M-200,525.9 L-100.0,525.9 L-100.0,527.9 L-100.0,529.9 L-100.0,531.9 L-100.0,533.9 L-100.0,535.9 L-100.0,538.0 L-100.0,540.0 L-100.0,542.0 L-100.0,544.0 L-100.0,546.0 L-100.0,548.0 L-100.0,550.1 L-100.0,552.1 L-100.0,554.1 L-100.0,556.1 L-100.0,558.1 L-100.0,560.1 L-100.0,562.2 L-100.0,564.2 L-100.0,566.2 L-100.0,568.2 L-100.0,570.2 L-66.0,572.2 L-14.2,574.3 L37.5,576.3 L90.3,578.3 L144.5,580.3 L199.3,582.3 L253.8,584.3 L307.1,586.4 L358.4,588.4 L406.7,590.4 L451.1,592.4 L493.2,594.4 L534.7,596.4 L575.2,598.5 L614.6,600.5 L652.8,602.5 L689.4,604.5 L724.2,606.5 L757.2,608.5 L787.9,610.6 L816.3,612.6 L842.1,614.6 L865.7,616.6 L888.3,618.6 L910.0,620.6 L930.2,622.7 L948.8,624.7 L958.8,625.9 L965.5,626.7 L966.7,626.9 L974.1,627.9 L980.0,628.7 L980.9,628.9 L987.0,629.9 L991.9,630.7 L992.5,630.9 L997.3,631.9 L1001.0,632.7 L1001.5,632.9 L1005.1,633.9 L1008.2,634.8 L1008.5,634.9 L1011.6,635.9 L1014.5,636.8 L1014.8,636.9 L1018.0,637.9 L1021.2,638.8 L1021.3,638.9 L1024.7,639.9 L1027.8,640.8 L1027.9,640.9 L1031.0,641.9 L1033.9,642.8 L1034.0,642.9 L1037.4,643.9 L1040.5,644.8 L1040.6,644.9 L1042.0,645.9 L1040.6,646.9 L1040.5,646.9 L1037.4,647.9 L1034.0,648.9 L1033.9,648.9 L1031.0,649.9 L1027.9,650.9 L1027.8,650.9 L1024.7,651.9 L1021.3,652.9 L1021.2,652.9 L1018.0,653.9 L1014.8,654.9 L1014.5,654.9 L1011.6,655.9 L1008.5,656.9 L1008.2,656.9 L1005.1,657.9 L1001.5,658.9 L1001.0,659.0 L997.3,659.9 L992.5,660.9 L991.9,661.0 L987.0,661.9 L980.9,662.9 L980.0,663.0 L974.1,663.9 L966.7,664.9 L965.5,665.0 L958.8,665.9 L948.8,667.0 L930.2,669.0 L910.0,671.1 L888.3,673.1 L865.7,675.1 L842.1,677.1 L816.3,679.1 L787.9,681.1 L757.2,683.2 L724.2,685.2 L689.4,687.2 L652.8,689.2 L614.6,691.2 L575.2,693.2 L534.7,695.3 L493.2,697.3 L451.1,699.3 L406.7,701.3 L358.4,703.3 L307.1,705.3 L253.8,707.4 L199.3,709.4 L144.5,711.4 L90.3,713.4 L37.5,715.4 L-14.2,717.4 L-66.0,719.5 L-100.0,721.5 L-100.0,723.5 L-100.0,725.5 L-100.0,727.5 L-100.0,729.5 L-100.0,731.6 L-100.0,733.6 L-100.0,735.6 L-100.0,737.6 L-100.0,739.6 L-100.0,741.6 L-100.0,743.7 L-100.0,745.7 L-100.0,747.7 L-100.0,749.7 L-100.0,751.7 L-100.0,753.7 L-100.0,755.8 L-100.0,757.8 L-100.0,759.8 L-100.0,761.8 L-100.0,763.8 L-100.0,765.9 L-200,765.9 Z" fill="#0000e4"/>
<path d="M-200,525.9 L-100.0,525.9 L-100.0,527.9 L-100.0,529.9 L-100.0,531.9 L-100.0,533.9 L-100.0,535.9 L-100.0,538.0 L-100.0,540.0 L-100.0,542.0 L-100.0,544.0 L-100.0,546.0 L-100.0,548.0 L-100.0,550.1 L-100.0,552.1 L-100.0,554.1 L-100.0,556.1 L-100.0,558.1 L-100.0,560.1 L-100.0,562.2 L-100.0,564.2 L-100.0,566.2 L-100.0,568.2 L-100.0,570.2 L-100.0,572.2 L-100.0,574.3 L-100.0,576.3 L-100.0,578.3 L-100.0,580.3 L-89.4,582.3 L-44.1,584.3 L1.2,586.4 L46.5,588.4 L93.2,590.4 L141.4,592.4 L190.3,594.4 L239.0,596.4 L286.8,598.5 L332.9,600.5 L376.5,602.5 L416.7,604.5 L452.9,606.5 L487.4,608.5 L521.8,610.6 L555.8,612.6 L589.0,614.6 L621.1,616.6 L651.6,618.6 L680.2,620.6 L706.6,622.7 L730.3,624.7 L742.7,625.9 L750.9,626.7 L752.4,626.9 L761.3,627.9 L768.2,628.7 L769.3,628.9 L776.3,629.9 L781.6,630.7 L782.4,630.9 L787.4,631.9 L791.2,632.7 L791.7,632.9 L795.4,633.9 L798.4,634.8 L798.7,634.9 L801.7,635.9 L804.6,636.8 L804.8,636.9 L808.0,637.9 L811.2,638.8 L811.3,638.9 L814.7,639.9 L817.8,640.8 L817.9,640.9 L821.0,641.9 L823.9,642.8 L824.0,642.9 L827.4,643.9 L830.5,644.8 L830.6,644.9 L832.0,645.9 L830.6,646.9 L830.5,646.9 L827.4,647.9 L824.0,648.9 L823.9,648.9 L821.0,649.9 L817.9,650.9 L817.8,650.9 L814.7,651.9 L811.3,652.9 L811.2,652.9 L808.0,653.9 L804.8,654.9 L804.6,654.9 L801.7,655.9 L798.7,656.9 L798.4,656.9 L795.4,657.9 L791.7,658.9 L791.2,659.0 L787.4,659.9 L782.4,660.9 L781.6,661.0 L776.3,661.9 L769.3,662.9 L768.2,663.0 L761.3,663.9 L752.4,664.9 L750.9,665.0 L742.7,665.9 L730.3,667.0 L706.6,669.0 L680.2,671.1 L651.6,673.1 L621.1,675.1 L589.0,677.1 L555.8,679.1 L521.8,681.1 L487.4,683.2 L452.9,685.2 L416.7,687.2 L376.5,689.2 L332.9,691.2 L286.8,693.2 L239.0,695.3 L190.3,697.3 L141.4,699.3 L93.2,701.3 L46.5,703.3 L1.2,705.3 L-44.1,707.4 L-89.4,709.4 L-100.0,711.4 L-100.0,713.4 L-100.0,715.4 L-100.0,717.4 L-100.0,719.5 L-100.0,721.5 L-100.0,723.5 L-100.0,725.5 L-100.0,727.5 L-100.0,729.5 L-100.0,731.6 L-100.0,733.6 L-100.0,735.6 L-100.0,737.6 L-100.0,739.6 L-100.0,741.6 L-100.0,743.7 L-100.0,745.7 L-100.0,747.7 L-100.0,749.7 L-100.0,751.7 L-100.0,753.7 L-100.0,755.8 L-100.0,757.8 L-100.0,759.8 L-100.0,761.8 L-100.0,763.8 L-100.0,765.9 L-200,765.9 Z" fill="#0000c4"/>
<path d="M-200,525.9 L-100.0,525.9 L-100.0,527.9 L-100.0,529.9 L-100.0,531.9 L-100.0,533.9 L-100.0,535.9 L-100.0,538.0 L-100.0,540.0 L-100.0,542.0 L-100.0,544.0 L-100.0,546.0 L-100.0,548.0 L-100.0,550.1 L-100.0,552.1 L-100.0,554.1 L-100.0,556.1 L-100.0,558.1 L-100.0,560.1 L-100.0,562.2 L-100.0,564.2 L-100.0,566.2 L-100.0,568.2 L-100.0,570.2 L-100.0,572.2 L-100.0,574.3 L-100.0,576.3 L-100.0,578.3 L-100.0,580.3 L-100.0,582.3 L-100.0,584.3 L-100.0,586.4 L-100.0,588.4 L-100.0,590.4 L-100.0,592.4 L-94.1,594.4 L-58.5,596.4 L-22.9,598.5 L12.7,600.5 L48.3,602.5 L84.5,604.5 L121.2,606.5 L158.2,608.5 L195.4,610.6 L232.4,612.6 L269.1,614.6 L305.4,616.6 L340.9,618.6 L375.5,620.6 L409.0,622.7 L441.1,624.7 L459.5,625.9 L473.5,626.7 L476.2,626.9 L493.1,627.9 L506.7,628.7 L508.8,628.9 L522.4,629.9 L531.5,630.7 L532.5,630.9 L538.7,631.9 L542.8,632.7 L543.3,632.9 L547.0,633.9 L549.9,634.8 L550.2,634.9 L553.0,635.9 L555.7,636.8 L555.9,636.9 L559.0,637.9 L562.2,638.8 L562.3,638.9 L565.7,639.9 L568.8,640.8 L568.9,640.9 L572.0,641.9 L574.9,642.8 L575.0,642.9 L578.4,643.9 L581.5,644.8 L581.6,644.9 L583.0,645.9 L581.6,646.9 L581.5,646.9 L578.4,647.9 L575.0,648.9 L574.9,648.9 L572.0,649.9 L568.9,650.9 L568.8,650.9 L565.7,651.9 L562.3,652.9 L562.2,652.9 L559.0,653.9 L555.9,654.9 L555.7,654.9 L553.0,655.9 L550.2,656.9 L549.9,656.9 L547.0,657.9 L543.3,658.9 L542.8,659.0 L538.7,659.9 L532.5,660.9 L531.5,661.0 L522.4,661.9 L508.8,662.9 L506.7,663.0 L493.1,663.9 L476.2,664.9 L473.5,665.0 L459.5,665.9 L441.1,667.0 L409.0,669.0 L375.5,671.1 L340.9,673.1 L305.4,675.1 L269.1,677.1 L232.4,679.1 L195.4,681.1 L158.2,683.2 L121.2,685.2 L84.5,687.2 L48.3,689.2 L12.7,691.2 L-22.9,693.2 L-58.5,695.3 L-94.1,697.3 L-100.0,699.3 L-100.0,701.3 L-100.0,703.3 L-100.0,705.3 L-100.0,707.4 L-100.0,709.4 L-100.0,711.4 L-100.0,713.4 L-100.0,715.4 L-100.0,717.4 L-100.0,719.5 L-100.0,721.5 L-100.0,723.5 L-100.0,725.5 L-100.0,727.5 L-100.0,729.5 L-100.0,731.6 L-100.0,733.6 L-100.0,735.6 L-100.0,737.6 L-100.0,739.6 L-100.0,741.6 L-100.0,743.7 L-100.0,745.7 L-100.0,747.7 L-100.0,749.7 L-100.0,751.7 L-100.0,753.7 L-100.0,755.8 L-100.0,757.8 L-100.0,759.8 L-100.0,761.8 L-100.0,763.8 L-100.0,765.9 L-200,765.9 Z" fill="#0000a8"/>
<path d="M-200,525.9 L-100.0,525.9 L-100.0,527.9 L-100.0,529.9 L-100.0,531.9 L-100.0,533.9 L-100.0,535.9 L-100.0,538.0 L-100.0,540.0 L-100.0,542.0 L-100.0,544.0 L-100.0,546.0 L-100.0,548.0 L-100.0,550.1 L-100.0,552.1 L-100.0,554.1 L-100.0,556.1 L-100.0,558.1 L-100.0,560.1 L-100.0,562.2 L-100.0,564.2 L-100.0,566.2 L-100.0,568.2 L-100.0,570.2 L-100.0,572.2 L-100.0,574.3 L-100.0,576.3 L-100.0,578.3 L-100.0,580.3 L-100.0,582.3 L-100.0,584.3 L-100.0,586.4 L-100.0,588.4 L-100.0,590.4 L-100.0,592.4 L-100.0,594.4 L-100.0,596.4 L-100.0,598.5 L-100.0,600.5 L-100.0,602.5 L-100.0,604.5 L-100.0,606.5 L-100.0,608.5 L-100.0,610.6 L-95.3,612.6 L-69.8,614.6 L-44.4,616.6 L-18.9,618.6 L6.6,620.6 L32.0,622.7 L58.7,624.7 L75.4,625.9 L87.7,626.7 L90.0,626.9 L104.6,627.9 L117.0,628.7 L119.0,628.9 L132.9,629.9 L144.5,630.7 L146.1,630.9 L158.2,631.9 L168.0,632.7 L169.1,632.9 L178.5,633.9 L185.4,634.8 L186.0,634.9 L192.0,635.9 L196.6,636.8 L197.0,636.9 L201.5,637.9 L205.4,638.8 L205.7,638.9 L210.0,639.9 L214.3,640.8 L214.5,640.9 L219.0,641.9 L223.0,642.8 L223.1,642.9 L227.0,643.9 L231.0,644.8 L231.1,644.9 L233.0,645.9 L231.1,646.9 L231.0,646.9 L227.0,647.9 L223.1,648.9 L223.0,648.9 L219.0,649.9 L214.5,650.9 L214.3,650.9 L210.0,651.9 L205.7,652.9 L205.4,652.9 L201.5,653.9 L197.0,654.9 L196.6,654.9 L192.0,655.9 L186.0,656.9 L185.4,656.9 L178.5,657.9 L169.1,658.9 L168.0,659.0 L158.2,659.9 L146.1,660.9 L144.5,661.0 L132.9,661.9 L119.0,662.9 L117.0,663.0 L104.6,663.9 L90.0,664.9 L87.7,665.0 L75.4,665.9 L58.7,667.0 L32.0,669.0 L6.6,671.1 L-18.9,673.1 L-44.4,675.1 L-69.8,677.1 L-95.3,679.1 L-100.0,681.1 L-100.0,683.2 L-100.0,685.2 L-100.0,687.2 L-100.0,689.2 L-100.0,691.2 L-100.0,693.2 L-100.0,695.3 L-100.0,697.3 L-100.0,699.3 L-100.0,701.3 L-100.0,703.3 L-100.0,705.3 L-100.0,707.4 L-100.0,709.4 L-100.0,711.4 L-100.0,713.4 L-100.0,715.4 L-100.0,717.4 L-100.0,719.5 L-100.0,721.5 L-100.0,723.5 L-100.0,725.5 L-100.0,727.5 L-100.0,729.5 L-100.0,731.6 L-100.0,733.6 L-100.0,735.6 L-100.0,737.6 L-100.0,739.6 L-100.0,741.6 L-100.0,743.7 L-100.0,745.7 L-100.0,747.7 L-100.0,749.7 L-100.0,751.7 L-100.0,753.7 L-100.0,755.8 L-100.0,757.8 L-100.0,759.8 L-100.0,761.8 L-100.0,763.8 L-100.0,765.9 L-200,765.9 Z" fill="#000084"/>
<path d="M29.8,623.1H46.5 M67.2,625.9H85.7 M107.3,628.7H125.6 M145.3,631.5H160.6 M153.8,659.5H168.0 M117.3,662.3H135.0 M77.1,665.1H95.8 M38.9,667.9H56.0 M16.3,600.7H32.1 M55.0,603.5H78.1 M105.4,606.3H129.0 M156.7,609.1H180.4 M208.2,611.9H231.8 M259.4,614.7H282.7 M309.7,617.5H332.4 M358.5,620.3H380.4 M405.4,623.1H426.2 M450.7,625.9H471.6 M495.0,628.7H514.1 M505.4,662.3H522.2 M461.7,665.1H483.0 M416.8,667.9H437.2 M370.5,670.7H392.1 M322.0,673.5H344.6 M272.1,676.3H295.2 M221.0,679.1H244.6 M169.6,681.9H193.3 M118.2,684.7H141.8 M67.5,687.5H90.7 M19.7,690.3H41.2 M16.0,586.7H31.4 M57.9,589.5H87.8 M123.6,592.3H154.6 M191.1,595.1H222.2 M258.3,597.9H288.6 M323.1,600.7H351.6 M383.4,603.5H409.1 M437.3,606.3H459.8 M485.9,609.1H507.9 M533.5,611.9H555.1 M580.1,614.7H600.9 M624.6,617.5H644.2 M666.1,620.3H683.9 M703.6,623.1H719.2 M712.2,667.9H727.2 M675.9,670.7H693.2 M635.3,673.5H654.5 M591.4,676.3H612.0 M545.3,679.1H566.8 M497.9,681.9H519.8 M449.9,684.7H472.0 M397.5,687.5H422.3 M338.7,690.3H366.5 M274.8,693.1H304.7 M208.0,695.9H239.0 M140.4,698.7H171.5 M74.1,701.5H104.3 M20.3,704.3H43.0 M19.6,575.5H41.2 M73.9,578.3H108.1 M148.7,581.1H183.7 M224.5,583.9H259.2 M299.0,586.7H332.2 M369.7,589.5H400.4 M434.5,592.3H462.1 M493.8,595.1H520.4 M551.0,597.9H576.8 M606.4,600.7H631.0 M659.3,603.5H682.6 M709.1,606.3H730.9 M755.4,609.1H775.4 M797.6,611.9H815.5 M835.1,614.7H850.7 M868.4,617.5H882.9 M876.3,673.5H890.6 M843.8,676.3H859.0 M807.4,679.1H824.7 M766.4,681.9H785.8 M721.1,684.7H742.4 M672.0,687.5H695.0 M619.8,690.3H644.2 M565.1,693.1H590.6 M508.3,695.9H534.6 M449.8,698.7H476.9 M386.5,701.5H416.4 M317.1,704.3H349.8 M243.4,707.1H277.7 M167.7,709.9H202.7 M92.4,712.7H126.9 M24.6,715.5H54.5 M43.0,567.1H79.1 M122.1,569.9H159.3 M203.0,572.7H240.2 M283.2,575.5H319.1 M359.9,578.3H393.3 M430.7,581.1H460.9 M495.5,583.9H524.2 M557.4,586.7H585.2 M617.0,589.5H643.5 M673.7,592.3H698.8 M727.2,595.1H750.6 M777.0,597.9H798.5 M822.6,600.7H842.2 M864.5,603.5H883.1 M904.7,606.3H923.0 M944.2,609.1H962.0 M982.5,611.9H999.6 M1019.2,614.7H1035.4 M1053.7,617.5H1068.8 M1062.0,673.5H1076.7 M1028.0,676.3H1044.0 M991.8,679.1H1008.7 M953.9,681.9H971.5 M914.6,684.7H932.8 M874.6,687.5H893.1 M833.4,690.3H852.5 M788.8,693.1H809.9 M740.0,695.9H763.0 M687.4,698.7H712.1 M631.5,701.5H657.6 M572.6,704.3H600.0 M511.1,707.1H539.7 M447.4,709.9H477.0 M378.2,712.7H410.9 M302.8,715.5H338.2 M223.2,718.3H260.2 M142.3,721.1H179.6 M62.5,723.9H99.0 M16.2,726.7H31.9 M23.3,555.9H51.1 M87.6,558.7H122.0 M162.6,561.5H197.2 M237.8,564.3H272.2 M312.1,567.1H345.8 M384.8,569.9H417.3 M455.0,572.7H486.7 M523.7,575.5H555.3 M592.0,578.3H623.0 M658.8,581.1H688.7 M723.1,583.9H751.5 M783.8,586.7H810.3 M840.3,589.5H864.8 M893.4,592.3H917.5 M945.6,595.1H969.3 M996.8,597.9H1019.8 M1046.2,600.7H1068.1 M1093.1,603.5H1113.7 M1136.8,606.3H1155.7 M1176.7,609.1H1193.5 M1211.9,611.9H1226.5 M1220.0,679.1H1233.8 M1185.9,681.9H1202.2 M1147.2,684.7H1165.6 M1104.3,687.5H1124.5 M1058.2,690.3H1079.8 M1009.3,693.1H1032.1 M958.5,695.9H982.1 M906.5,698.7H930.6 M853.8,701.5H878.1 M798.3,704.3H824.3 M738.6,707.1H766.7 M675.1,709.9H704.8 M608.9,712.7H639.6 M540.9,715.5H572.3 M472.2,718.3H503.9 M402.5,721.1H434.8 M330.5,723.9H364.0 M256.5,726.7H290.7 M181.4,729.5H216.0 M106.3,732.3H140.8 M32.0,735.1H66.0 M39.9,547.5H74.0 M114.3,550.3H148.6 M188.9,553.1H223.3 M263.6,555.9H297.8 M337.8,558.7H371.6 M411.2,561.5H444.6 M484.0,564.3H517.7 M557.4,567.1H591.3 M630.8,569.9H664.2 M702.8,572.7H735.0 M771.8,575.5H802.2 M836.6,578.3H864.9 M897.9,581.1H925.8 M958.4,583.9H985.8 M1017.4,586.7H1043.9 M1074.2,589.5H1099.2 M1127.5,592.3H1150.6 M1176.3,595.1H1197.1 M1219.7,597.9H1237.6 M1257.4,600.7H1273.3 M1291.5,603.5H1306.7 M1324.2,606.3H1338.7 M1332.1,684.7H1346.4 M1299.8,687.5H1314.8 M1266.1,690.3H1281.8 M1229.6,693.1H1246.8 M1187.7,695.9H1207.8 M1140.1,698.7H1162.7 M1087.8,701.5H1112.4 M1031.9,704.3H1058.0 M973.3,707.1H1000.5 M913.1,709.9H940.9 M852.2,712.7H880.3 M788.4,715.5H818.2 M720.3,718.3H752.2 M649.0,721.1H682.2 M575.8,723.9H609.7 M502.3,726.7H536.1 M429.4,729.5H462.8 M356.2,732.3H390.0 M282.2,735.1H316.3 M207.6,737.9H242.0 M132.9,740.7H167.3 M58.4,743.5H92.6 M15.5,746.3H29.9 M22.5,536.3H48.9 M86.4,539.1H124.0 M168.3,541.9H206.1 M250.2,544.7H287.7 M331.0,547.5H367.5 M409.3,550.3H444.1 M484.4,553.1H518.1 M557.1,555.9H590.0 M628.2,558.7H660.2 M697.3,561.5H728.4 M764.4,564.3H794.6 M829.5,567.1H858.8 M893.1,569.9H922.2 M956.1,572.7H984.8 M1018.1,575.5H1046.0 M1078.2,578.3H1105.1 M1135.7,581.1H1161.1 M1189.8,583.9H1213.3 M1239.7,586.7H1261.3 M1286.5,589.5H1307.8 M1332.6,592.3H1353.6 M1378.0,595.1H1398.6 M1422.3,597.9H1442.1 M1464.8,600.7H1483.7 M1505.2,603.5H1522.9 M1542.9,606.3H1559.2 M1577.4,609.1H1592.0 M1585.4,681.9H1599.7 M1551.8,684.7H1567.7 M1514.9,687.5H1532.2 M1475.1,690.3H1493.7 M1433.1,693.1H1452.7 M1389.2,695.9H1409.6 M1344.0,698.7H1365.0 M1298.1,701.5H1319.3 M1251.7,704.3H1273.0 M1202.7,707.1H1225.6 M1149.6,709.9H1174.5 M1092.9,712.7H1119.4 M1033.3,715.5H1061.0 M971.7,718.3H1000.3 M908.9,721.1H937.9 M845.5,723.9H874.7 M780.9,726.7H810.8 M714.3,729.5H745.2 M645.6,732.3H677.4 M575.1,735.1H607.8 M502.7,737.9H536.2 M428.4,740.7H462.8 M350.9,743.5H387.0 M270.6,746.3H307.8 M188.8,749.1H226.6 M106.8,751.9H144.5 M28.0,754.7H63.7 M183.5,530.7H218.0 M258.5,533.5H293.0 M333.5,536.3H367.8 M407.9,539.1H441.9 M481.7,541.9H515.6 M555.4,544.7H589.3 M628.9,547.5H662.5 M701.4,550.3H734.2 M772.1,553.1H803.9 M840.4,555.9H870.9 M906.4,558.7H936.4 M971.1,561.5H1000.5 M1034.4,564.3H1063.0 M1096.0,567.1H1123.6 M1155.4,569.9H1182.0 M1212.6,572.7H1238.0 M1267.5,575.5H1292.3 M1321.3,578.3H1346.0 M1374.6,581.1H1398.8 M1426.8,583.9H1450.3 M1477.3,586.7H1499.8 M1525.5,589.5H1546.7 M1570.8,592.3H1590.6 M1612.8,595.1H1630.8 M1650.8,597.9H1666.9 M1684.7,600.7H1699.0 M1900.6,623.1H1916.2 M1935.4,625.9H1952.5 M1970.9,628.7H1985.2 M1944.6,665.1H1961.4 M1908.7,667.9H1925.1 M1692.6,690.3H1706.5 M1659.7,693.1H1675.2 M1622.7,695.9H1640.2 M1581.7,698.7H1601.0 M1537.1,701.5H1558.0 M1489.5,704.3H1511.8 M1439.6,707.1H1462.9 M1387.8,709.9H1411.8 M1334.7,712.7H1359.3 M1281.0,715.5H1305.8 M1226.5,718.3H1251.6 M1170.0,721.1H1196.3 M1111.0,723.9H1138.4 M1050.0,726.7H1078.3 M987.1,729.5H1016.3 M922.7,732.3H952.5 M857.1,735.1H887.4 M789.5,737.9H820.9 M719.3,740.7H751.9 M647.2,743.5H680.6 M573.8,746.3H607.7 M500.1,749.1H534.0 M426.4,751.9H460.3 M352.1,754.7H386.4 M277.2,757.5H311.8 M202.2,760.3H236.7 M544.0,530.7H575.0 M611.6,533.5H642.9 M679.6,536.3H710.8 M747.1,539.1H777.8 M813.2,541.9H842.8 M877.1,544.7H905.8 M939.2,547.5H967.4 M1000.2,550.3H1027.9 M1060.1,553.1H1087.4 M1119.2,555.9H1146.1 M1177.6,558.7H1204.4 M1235.7,561.5H1262.2 M1293.4,564.3H1319.9 M1350.9,567.1H1377.2 M1408.0,569.9H1434.0 M1464.4,572.7H1490.1 M1520.1,575.5H1545.3 M1574.7,578.3H1599.5 M1628.2,581.1H1652.3 M1680.1,583.9H1703.4 M1730.2,586.7H1752.6 M1778.6,589.5H1800.5 M1826.0,592.3H1847.6 M1873.0,595.1H1894.6 M1920.2,597.9H1942.1 M1968.1,600.7H1990.6 M2017.6,603.5H2040.9 M2069.9,606.3H2095.8 M2127.8,609.1H2156.3 M2190.3,611.9H2219.9 M2254.3,614.7H2283.5 M2316.5,617.5H2343.7 M2373.6,620.3H2397.3 M2422.3,623.1H2441.1 M2432.8,667.9H2450.1 M2386.7,670.7H2409.3 M2331.4,673.5H2357.9 M2270.2,676.3H2299.0 M2206.3,679.1H2235.9 M2143.1,681.9H2172.0 M2083.7,684.7H2110.4 M2030.3,687.5H2054.1 M1980.3,690.3H2003.0 M1932.1,693.1H1954.1 M1884.7,695.9H1906.4 M1837.7,698.7H1859.3 M1790.5,701.5H1812.3 M1742.4,704.3H1764.7 M1692.8,707.1H1715.8 M1641.3,709.9H1665.3 M1588.2,712.7H1612.8 M1533.8,715.5H1559.0 M1478.4,718.3H1504.0 M1422.1,721.1H1448.1 M1365.2,723.9H1391.5 M1307.8,726.7H1334.2 M1250.1,729.5H1276.7 M1192.2,732.3H1218.9 M1133.9,735.1H1160.7 M1074.9,737.9H1102.1 M1015.3,740.7H1042.8 M954.6,743.5H982.6 M892.7,746.3H921.3 M829.3,749.1H858.7 M763.8,751.9H794.3 M696.6,754.7H727.7 M628.6,757.5H660.0 M560.9,760.3H592.0 M928.2,530.7H954.6 M985.6,533.5H1012.0 M1043.1,536.3H1069.6 M1100.7,539.1H1127.0 M1157.8,541.9H1183.9 M1214.2,544.7H1239.9 M1269.6,547.5H1294.5 M1323.4,550.3H1347.8 M1376.1,553.1H1400.1 M1428.2,555.9H1452.1 M1480.2,558.7H1504.3 M1532.9,561.5H1557.4 M1586.6,564.3H1611.9 M1642.1,567.1H1668.2 M1699.3,569.9H1726.1 M1757.8,572.7H1785.1 M1817.5,575.5H1845.5 M1878.7,578.3H1907.3 M1941.3,581.1H1970.7 M2005.6,583.9H2035.8 M2072.9,586.7H2105.7 M2145.9,589.5H2181.5 M2223.6,592.3H2259.8 M2301.5,595.1H2336.4 M2375.3,597.9H2406.7 M2440.6,600.7H2466.9 M2455.5,690.3H2481.0 M2392.5,693.1H2422.8 M2320.5,695.9H2354.7 M2243.2,698.7H2279.3 M2165.1,701.5H2201.0 M2090.4,704.3H2124.2 M2022.1,707.1H2052.7 M1957.2,709.9H1986.8 M1894.2,712.7H1923.0 M1832.7,715.5H1860.8 M1772.6,718.3H1800.1 M1713.8,721.1H1740.7 M1656.2,723.9H1682.6 M1600.3,726.7H1625.8 M1546.2,729.5H1570.9 M1493.3,732.3H1517.5 M1441.2,735.1H1465.1 M1389.2,737.9H1413.1 M1336.7,740.7H1360.9 M1283.2,743.5H1307.9 M1228.2,746.3H1253.7 M1172.0,749.1H1198.0 M1115.0,751.9H1141.3 M1057.5,754.7H1084.0 M999.9,757.5H1026.5 M942.5,760.3H968.9 M1379.0,530.7H1398.2 M1420.6,533.5H1439.3 M1461.3,536.3H1480.0 M1501.9,539.1H1520.8 M1543.2,541.9H1562.5 M1585.7,544.7H1605.9 M1630.3,547.5H1651.7 M1677.5,550.3H1700.0 M1726.9,553.1H1750.4 M1778.4,555.9H1802.8 M1831.9,558.7H1857.2 M1887.4,561.5H1913.6 M1944.9,564.3H1972.0 M2004.4,567.1H2032.4 M2066.7,569.9H2096.9 M2134.0,572.7H2167.0 M2206.4,575.5H2240.7 M2280.9,578.3H2315.1 M2354.4,581.1H2387.2 M2424.0,583.9H2453.9 M2440.6,707.1H2469.9 M2372.3,709.9H2404.5 M2299.5,712.7H2333.5 M2225.0,715.5H2259.4 M2151.8,718.3H2185.2 M2082.9,721.1H2113.9 M2019.6,723.9H2048.0 M1959.6,726.7H1986.9 M1901.6,729.5H1928.0 M1845.6,732.3H1871.1 M1791.6,735.1H1816.2 M1739.6,737.9H1763.3 M1689.6,740.7H1712.4 M1641.9,743.5H1663.6 M1596.7,746.3H1617.1 M1553.7,749.1H1573.2 M1512.2,751.9H1531.1 M1471.5,754.7H1490.1 M1430.8,757.5H1449.5 M1389.5,760.3H1408.6 M2003.1,547.5H2018.2 M2037.4,550.3H2054.8 M2077.5,553.1H2098.8 M2125.8,555.9H2150.5 M2181.0,558.7H2208.2 M2240.9,561.5H2269.6 M2303.5,564.3H2332.6 M2366.6,567.1H2395.2 M2428.0,569.9H2455.2 M2443.0,721.1H2469.9 M2382.1,723.9H2410.5 M2319.3,726.7H2348.4 M2256.4,729.5H2285.3 M2195.6,732.3H2223.3 M2139.0,735.1H2164.5 M2088.8,737.9H2111.1 M2046.8,740.7H2065.0 M2011.2,743.5H2026.9 M1979.9,746.3H1993.8 M2141.4,530.7H2156.6 M2174.2,533.5H2189.0 M2206.1,536.3H2220.5 M2237.4,539.1H2251.7 M2268.6,541.9H2283.1 M2300.2,544.7H2315.1 M2332.8,547.5H2348.1 M2366.6,550.3H2382.8 M2402.4,553.1H2419.6 M2440.5,555.9H2458.9 M2450.5,735.1H2469.3 M2411.7,737.9H2429.1 M2375.4,740.7H2391.8 M2341.1,743.5H2356.6 M2308.3,746.3H2323.2 M2276.5,749.1H2291.0 M2245.2,751.9H2259.5 M2214.0,754.7H2228.3 M2182.3,757.5H2196.9 M2149.7,760.3H2164.8 M2469.9,536.3H2484.5" fill="none" stroke="#000814" stroke-opacity="0.85" stroke-width="1.6" filter="url(#bl)"/>
<path d="M9.6,620.3H17.4 M173.9,634.3H186.8 M193.8,637.1H201.6 M206.7,639.9H214.1 M209.6,651.1H217.1 M197.3,653.9H204.7 M180.0,656.7H191.1 M11.4,670.7H24.4 M528.9,631.5H539.8 M534.9,659.5H543.3 M734.0,625.9H750.9 M760.8,628.7H773.6 M780.7,631.5H789.1 M784.6,659.5H792.0 M766.5,662.3H778.2 M741.3,665.1H757.2 M897.3,620.3H914.9 M926.1,623.1H942.0 M951.9,625.9H965.6 M973.8,628.7H984.8 M991.1,631.5H999.0 M978.6,662.3H988.8 M957.7,665.1H970.8 M932.9,667.9H948.3 M904.7,670.7H922.0 M10.0,564.3H18.9 M1083.6,620.3H1101.5 M1112.7,623.1H1128.6 M1138.3,625.9H1151.8 M1160.0,628.7H1170.8 M1177.1,631.5H1185.1 M1180.7,659.5H1187.9 M1164.7,662.3H1174.8 M1144.1,665.1H1157.0 M1119.5,667.9H1134.8 M1091.2,670.7H1108.6 M1240.2,614.7H1255.9 M1265.8,617.5H1279.6 M1288.4,620.3H1300.9 M1308.8,623.1H1319.9 M1326.9,625.9H1336.7 M1342.8,628.7H1351.4 M1356.7,631.5H1363.9 M1346.5,662.3H1354.8 M1331.1,665.1H1340.6 M1313.5,667.9H1324.3 M1293.7,670.7H1305.9 M1271.6,673.5H1285.2 M1247.0,676.3H1262.1 M9.6,544.7H17.2 M1353.2,609.1H1371.2 M1382.8,611.9H1399.8 M1410.7,614.7H1426.5 M1436.7,617.5H1451.3 M1460.7,620.3H1474.1 M1482.6,623.1H1494.7 M1502.3,625.9H1513.0 M1519.6,628.7H1528.9 M1534.5,631.5H1542.0 M1523.6,662.3H1532.4 M1506.8,665.1H1517.2 M1487.7,667.9H1499.5 M1466.4,670.7H1479.5 M1442.9,673.5H1457.2 M1417.4,676.3H1432.9 M1390.0,679.1H1406.6 M1360.8,681.9H1378.5 M1606.2,611.9H1623.0 M1633.2,614.7H1647.2 M1655.6,617.5H1666.8 M1673.6,620.3H1683.0 M1688.9,623.1H1697.0 M1702.1,625.9H1709.3 M1692.3,667.9H1700.2 M1677.7,670.7H1686.7 M1660.5,673.5H1671.1 M1639.2,676.3H1652.5 M1613.4,679.1H1629.4 M1713.1,603.5H1730.0 M1740.9,606.3H1756.6 M1766.9,609.1H1781.9 M1791.8,611.9H1806.5 M1816.5,614.7H1831.5 M1841.8,617.5H1857.6 M1868.6,620.3H1885.7 M1997.1,631.5H2007.9 M2002.4,659.5H2011.7 M1976.8,662.3H1993.7 M1875.7,670.7H1893.2 M1848.3,673.5H1864.4 M1822.7,676.3H1837.9 M1797.9,679.1H1812.7 M1773.2,681.9H1788.0 M1747.5,684.7H1763.0 M1720.3,687.5H1736.9 M2458.0,625.9H2475.5 M2484.3,628.7H2493.1 M2465.9,665.1H2482.7 M2485.1,603.5H2493.3 M2476.4,586.7H2491.1 M1838.0,530.7H1854.6 M1865.4,533.5H1881.1 M1891.4,536.3H1906.6 M1916.9,539.1H1932.3 M1942.9,541.9H1959.2 M1970.5,544.7H1988.2 M2476.1,572.7H2491.0 M1949.6,749.1H1966.2 M1923.3,751.9H1938.9 M1897.8,754.7H1913.0 M1872.0,757.5H1887.5 M1845.0,760.3H1861.4 M2475.0,558.7H2490.7 M2483.5,732.3H2492.9 M2419.8,530.7H2433.2 M2442.4,533.5H2456.6 M2474.1,754.7H2490.5 M2448.2,757.5H2463.5 M2425.6,760.3H2438.7" fill="none" stroke="#000814" stroke-opacity="0.85" stroke-width="1.6" filter="url(#bl2)"/>
<path d="M218.0,642.7H226.6 M228.7,645.5H232.4 M221.0,648.3H229.5 M544.6,634.3H551.5 M553.7,637.1H560.1 M562.3,639.9H569.2 M571.4,642.7H578.1 M579.6,645.5H582.6 M573.6,648.3H580.3 M564.6,651.1H571.4 M555.7,653.9H562.4 M547.2,656.7H553.5 M793.0,634.3H800.1 M802.4,637.1H809.1 M811.3,639.9H818.2 M820.4,642.7H827.1 M828.6,645.5H831.6 M822.6,648.3H829.3 M813.6,651.1H820.4 M804.5,653.9H811.4 M795.6,656.7H802.3 M1002.8,634.3H1010.0 M1012.3,637.1H1019.1 M1021.3,639.9H1028.2 M1030.4,642.7H1037.1 M1038.6,645.5H1041.6 M1032.6,648.3H1039.3 M1023.6,651.1H1030.4 M1014.5,653.9H1021.4 M1005.4,656.7H1012.2 M993.8,659.5H1002.8 M1188.9,634.3H1196.0 M1198.3,637.1H1205.1 M1207.3,639.9H1214.2 M1216.4,642.7H1223.1 M1224.6,645.5H1227.6 M1218.6,648.3H1225.3 M1209.6,651.1H1216.4 M1200.5,653.9H1207.4 M1191.4,656.7H1198.2 M1367.5,634.3H1374.8 M1377.1,637.1H1384.0 M1386.3,639.9H1393.2 M1395.4,642.7H1402.1 M1403.6,645.5H1406.6 M1397.6,648.3H1404.3 M1388.6,651.1H1395.4 M1379.4,653.9H1386.4 M1370.1,656.7H1377.1 M1359.0,659.5H1367.5 M7.6,737.9H11.4 M1545.7,634.3H1552.9 M1555.2,637.1H1562.0 M1564.3,639.9H1571.2 M1573.4,642.7H1580.1 M1581.6,645.5H1584.6 M1575.6,648.3H1582.3 M1566.6,651.1H1573.4 M1557.5,653.9H1564.4 M1548.3,656.7H1555.2 M1536.9,659.5H1545.6 M1713.1,628.7H1721.6 M1724.4,631.5H1732.6 M1735.2,634.3H1742.6 M1745.0,637.1H1752.0 M1754.3,639.9H1761.2 M1763.4,642.7H1770.1 M1771.6,645.5H1774.6 M1765.6,648.3H1772.3 M1756.6,651.1H1763.4 M1747.3,653.9H1754.3 M1737.7,656.7H1744.9 M1727.1,659.5H1735.2 M1716.0,662.3H1724.4 M1704.3,665.1H1713.1 M2012.9,634.3H2021.8 M2024.5,637.1H2032.1 M2034.5,639.9H2041.3 M2043.5,642.7H2050.1 M2051.6,645.5H2054.6 M2045.6,648.3H2052.3 M2036.8,651.1H2043.4 M2027.0,653.9H2034.5 M2016.1,656.7H2024.4 M2489.2,662.3H2495.0 M2494.5,687.5H2497.5 M2488.2,704.3H2494.9 M2487.0,718.3H2494.7 M2493.0,539.1H2496.0" fill="none" stroke="#000814" stroke-opacity="0.85" stroke-width="1.6" filter="url(#bl3)"/>
</g>
<rect x="37.0" y="529.3" width="2429.0" height="2.7" fill="#000" opacity="0.17"/>
<rect x="37.0" y="760.9" width="2429.0" height="2.2" fill="#a2a2a8"/>
<rect x="37.0" y="763.1" width="2429.0" height="1" fill="#d4d4d8"/>
<g font-family="Liberation Sans, Arial, Helvetica, sans-serif" font-size="35.5" text-anchor="middle" fill="#111" stroke="#fff" stroke-width="0.8">
<g transform="translate(110.6,665.7) rotate(-4.7)"><rect x="-41.0" y="-17" width="82" height="34" fill="#fff" stroke="none"/><text x="0" y="12.7">0.05</text></g>
<g transform="translate(480,664.3) rotate(-6)"><rect x="-31.0" y="-17" width="62" height="34" fill="#fff" stroke="none"/><text x="0" y="12.7">0.1</text></g>
<g transform="translate(720,665.7) rotate(-6.5)"><rect x="-40.0" y="-17" width="80" height="34" fill="#fff" stroke="none"/><text x="0" y="12.7">0.15</text></g>
<g transform="translate(948,666.7) rotate(-7.9)"><rect x="-31.0" y="-17" width="62" height="34" fill="#fff" stroke="none"/><text x="0" y="12.7">0.2</text></g>
<g transform="translate(1142,667) rotate(-8.5)"><rect x="-40.5" y="-17" width="81" height="34" fill="#fff" stroke="none"/><text x="0" y="12.7">0.25</text></g>
<g transform="translate(1336.7,661.3) rotate(-12)"><rect x="-30.0" y="-17" width="60" height="34" fill="#fff" stroke="none"/><text x="0" y="12.7">0.3</text></g>
<g transform="translate(1511.7,667) rotate(-12.4)"><rect x="-41.0" y="-17" width="82" height="34" fill="#fff" stroke="none"/><text x="0" y="12.7">0.35</text></g>
<g transform="translate(1691.2,668.3) rotate(-12.3)"><rect x="-30.0" y="-17" width="60" height="34" fill="#fff" stroke="none"/><text x="0" y="12.7">0.4</text></g>
<g transform="translate(1962.7,664.3) rotate(-8.2)"><rect x="-40.0" y="-17" width="80" height="34" fill="#fff" stroke="none"/><text x="0" y="12.7">0.45</text></g>
<g transform="translate(2106,682.3) rotate(-3.2)"><rect x="-30.5" y="-17" width="61" height="34" fill="#fff" stroke="none"/><text x="0" y="12.7">0.5</text></g>
<g transform="translate(2263,711.5) rotate(-3.5)"><rect x="-30.0" y="-17" width="60" height="34" fill="#fff" stroke="none"/><text x="0" y="12.7">0.6</text></g>
<g transform="translate(2416.8,736.2) rotate(-3.3)"><rect x="-30.5" y="-17" width="61" height="34" fill="#fff" stroke="none"/><text x="0" y="12.7">0.7</text></g>
</g>
<rect x="35.6" y="851.2" width="2433.0" height="5.7" fill="#111"/>
<rect x="35.6" y="856.9" width="2433.0" height="0.8" fill="#888"/>
<rect x="60.2" y="840.3" width="2.8" height="11.5" fill="#333"/>
<rect x="137.5" y="840.3" width="2.8" height="11.5" fill="#333"/>
<rect x="213.7" y="830.5" width="5" height="21.5" fill="#111"/>
<rect x="292.1" y="840.3" width="2.8" height="11.5" fill="#333"/>
<rect x="369.4" y="840.3" width="2.8" height="11.5" fill="#333"/>
<rect x="446.8" y="840.3" width="2.8" height="11.5" fill="#333"/>
<rect x="523.0" y="830.5" width="5" height="21.5" fill="#111"/>
<rect x="601.4" y="840.3" width="2.8" height="11.5" fill="#333"/>
<rect x="678.7" y="840.3" width="2.8" height="11.5" fill="#333"/>
<rect x="756.0" y="840.3" width="2.8" height="11.5" fill="#333"/>
<rect x="832.3" y="830.5" width="5" height="21.5" fill="#111"/>
<rect x="910.7" y="840.3" width="2.8" height="11.5" fill="#333"/>
<rect x="988.0" y="840.3" width="2.8" height="11.5" fill="#333"/>
<rect x="1065.3" y="840.3" width="2.8" height="11.5" fill="#333"/>
<rect x="1141.5" y="830.5" width="5" height="21.5" fill="#111"/>
<rect x="1220.0" y="840.3" width="2.8" height="11.5" fill="#333"/>
<rect x="1297.3" y="840.3" width="2.8" height="11.5" fill="#333"/>
<rect x="1374.6" y="840.3" width="2.8" height="11.5" fill="#333"/>
<rect x="1450.8" y="830.5" width="5" height="21.5" fill="#111"/>
<rect x="1529.2" y="840.3" width="2.8" height="11.5" fill="#333"/>
<rect x="1606.6" y="840.3" width="2.8" height="11.5" fill="#333"/>
<rect x="1683.9" y="840.3" width="2.8" height="11.5" fill="#333"/>
<rect x="1760.1" y="830.5" width="5" height="21.5" fill="#111"/>
<rect x="1838.5" y="840.3" width="2.8" height="11.5" fill="#333"/>
<rect x="1915.8" y="840.3" width="2.8" height="11.5" fill="#333"/>
<rect x="1993.2" y="840.3" width="2.8" height="11.5" fill="#333"/>
<rect x="2069.4" y="830.5" width="5" height="21.5" fill="#111"/>
<rect x="2147.8" y="840.3" width="2.8" height="11.5" fill="#333"/>
<rect x="2225.1" y="840.3" width="2.8" height="11.5" fill="#333"/>
<rect x="2302.4" y="840.3" width="2.8" height="11.5" fill="#333"/>
<rect x="2378.7" y="830.5" width="5" height="21.5" fill="#111"/>
<rect x="2457.1" y="840.3" width="2.8" height="11.5" fill="#333"/>
<g font-family="Liberation Sans, Arial, Helvetica, sans-serif" font-size="68" text-anchor="middle" fill="#111" stroke="#fff" stroke-width="0.9">
<text x="216.2" y="939.5">2.9</text>
<text x="525.5" y="939.5">2.92</text>
<text x="834.8" y="939.5">2.94</text>
<text x="1144.0" y="939.5">2.96</text>
<text x="1453.3" y="939.5">2.98</text>
<text x="1762.6" y="939.5">3</text>
<text x="2071.9" y="939.5">3.02</text>
<text x="2381.2" y="939.5">3.04</text>
</g>
<g font-family="Liberation Serif, Times New Roman, serif" font-size="77" fill="#111">
<text x="859.3" y="1071.6" textLength="100.5" lengthAdjust="spacingAndGlyphs">(<tspan font-weight="bold">a</tspan>)</text>
<text x="980" y="1071.6" textLength="154.5" lengthAdjust="spacingAndGlyphs">Wall</text>
<text x="1153" y="1071.6" textLength="336" lengthAdjust="spacingAndGlyphs">emissivity</text>
<text x="1512" y="1071.6" textLength="133.5" lengthAdjust="spacingAndGlyphs">0.45</text>
</g>
</svg>
</body></html>
